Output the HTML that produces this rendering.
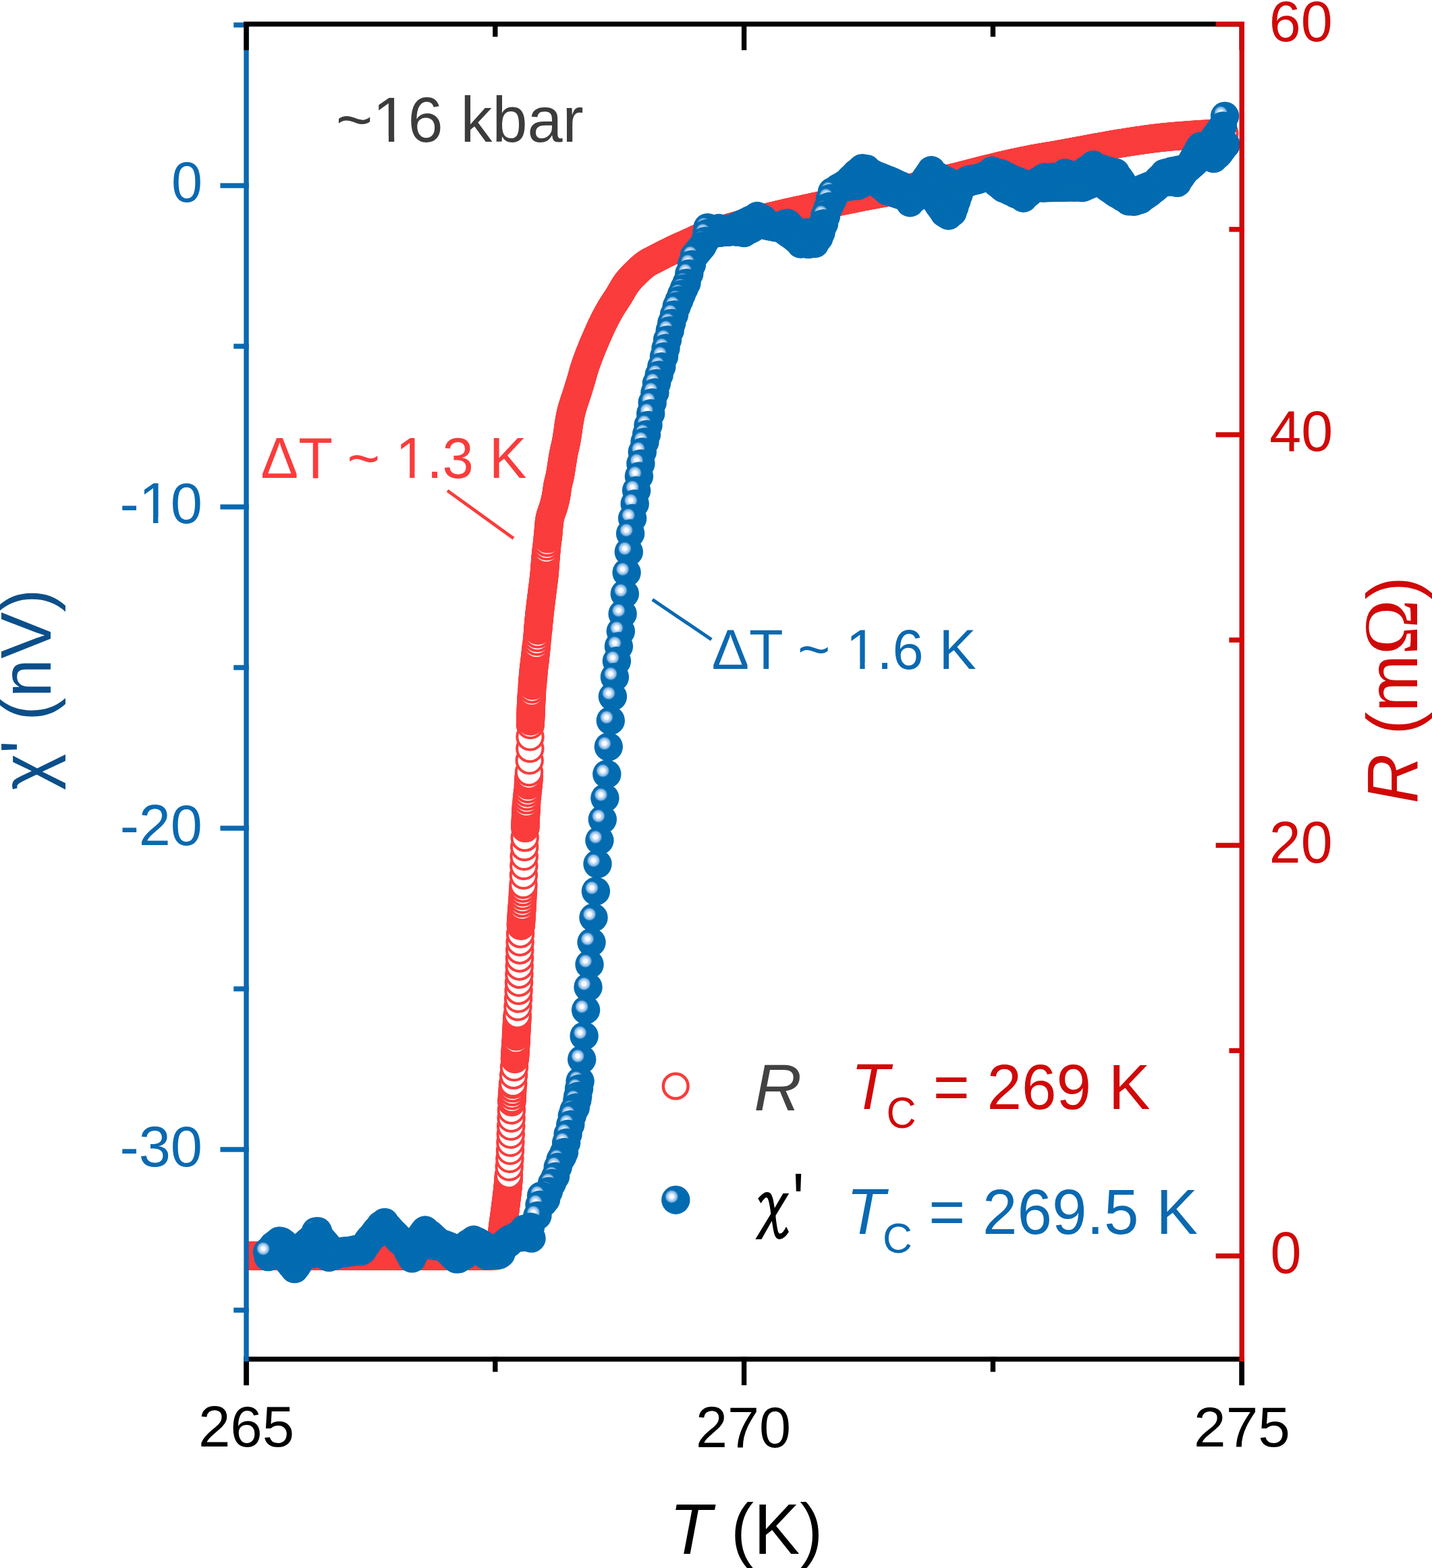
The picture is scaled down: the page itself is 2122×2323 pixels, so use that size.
<!DOCTYPE html><html><head><meta charset="utf-8"><title>T-dependence of R and chi</title><style>html,body{margin:0;padding:0;background:#fff;overflow:hidden}svg{display:block}</style></head><body>
<svg xmlns="http://www.w3.org/2000/svg" xmlns:xlink="http://www.w3.org/1999/xlink" width="2122" height="2323" viewBox="0 0 2122 2323">
<defs>
<radialGradient id="hl" cx="0.5" cy="0.5" r="0.5"><stop offset="0" stop-color="#ffffff"/><stop offset="0.3" stop-color="#f2f7fc"/><stop offset="0.5" stop-color="#bcd6ef"/><stop offset="0.75" stop-color="#86b8e6"/><stop offset="1" stop-color="#2f7fc2" stop-opacity="0"/></radialGradient>
<g id="bp"><circle r="21.2" fill="#036bb0" stroke="#0a5996" stroke-width="0"/><circle cx="-6" cy="-5" r="10.5" fill="url(#hl)"/></g>
<circle id="rp" r="19.2" fill="#ffffff" stroke="#fa3c3c" stroke-width="4"/>
<clipPath id="pc"><rect x="365.0" y="35.7" width="1475.2" height="1977.9"/></clipPath>
</defs>
<rect width="2122" height="2323" fill="#fff"/>
<g clip-path="url(#pc)">
<g><use xlink:href="#rp" x="336.0" y="1860.5"/><use xlink:href="#rp" x="338.0" y="1860.5"/><use xlink:href="#rp" x="340.0" y="1860.5"/><use xlink:href="#rp" x="342.0" y="1860.5"/><use xlink:href="#rp" x="344.0" y="1860.5"/><use xlink:href="#rp" x="346.0" y="1860.5"/><use xlink:href="#rp" x="348.0" y="1860.5"/><use xlink:href="#rp" x="350.0" y="1860.5"/><use xlink:href="#rp" x="352.0" y="1860.5"/><use xlink:href="#rp" x="354.0" y="1860.5"/><use xlink:href="#rp" x="356.0" y="1860.5"/><use xlink:href="#rp" x="358.0" y="1860.5"/><use xlink:href="#rp" x="360.0" y="1860.5"/><use xlink:href="#rp" x="362.0" y="1860.5"/><use xlink:href="#rp" x="364.0" y="1860.5"/><use xlink:href="#rp" x="366.0" y="1860.5"/><use xlink:href="#rp" x="368.0" y="1860.5"/><use xlink:href="#rp" x="370.0" y="1860.5"/><use xlink:href="#rp" x="372.0" y="1860.5"/><use xlink:href="#rp" x="374.0" y="1860.5"/><use xlink:href="#rp" x="376.0" y="1860.5"/><use xlink:href="#rp" x="378.0" y="1860.5"/><use xlink:href="#rp" x="380.0" y="1860.5"/><use xlink:href="#rp" x="382.0" y="1860.5"/><use xlink:href="#rp" x="384.0" y="1860.5"/><use xlink:href="#rp" x="386.0" y="1860.5"/><use xlink:href="#rp" x="388.0" y="1860.5"/><use xlink:href="#rp" x="390.0" y="1860.5"/><use xlink:href="#rp" x="392.0" y="1860.5"/><use xlink:href="#rp" x="394.0" y="1860.5"/><use xlink:href="#rp" x="396.0" y="1860.5"/><use xlink:href="#rp" x="398.0" y="1860.5"/><use xlink:href="#rp" x="400.0" y="1860.5"/><use xlink:href="#rp" x="402.0" y="1860.5"/><use xlink:href="#rp" x="404.0" y="1860.5"/><use xlink:href="#rp" x="406.0" y="1860.5"/><use xlink:href="#rp" x="408.0" y="1860.5"/><use xlink:href="#rp" x="410.0" y="1860.5"/><use xlink:href="#rp" x="412.0" y="1860.5"/><use xlink:href="#rp" x="414.0" y="1860.5"/><use xlink:href="#rp" x="416.0" y="1860.5"/><use xlink:href="#rp" x="418.0" y="1860.5"/><use xlink:href="#rp" x="420.0" y="1860.5"/><use xlink:href="#rp" x="422.0" y="1860.5"/><use xlink:href="#rp" x="424.0" y="1860.5"/><use xlink:href="#rp" x="426.0" y="1860.5"/><use xlink:href="#rp" x="428.0" y="1860.5"/><use xlink:href="#rp" x="430.0" y="1860.5"/><use xlink:href="#rp" x="432.0" y="1860.5"/><use xlink:href="#rp" x="434.0" y="1860.5"/><use xlink:href="#rp" x="436.0" y="1860.5"/><use xlink:href="#rp" x="438.0" y="1860.5"/><use xlink:href="#rp" x="440.0" y="1860.5"/><use xlink:href="#rp" x="442.0" y="1860.5"/><use xlink:href="#rp" x="444.0" y="1860.5"/><use xlink:href="#rp" x="446.0" y="1860.5"/><use xlink:href="#rp" x="448.0" y="1860.5"/><use xlink:href="#rp" x="450.0" y="1860.5"/><use xlink:href="#rp" x="452.0" y="1860.5"/><use xlink:href="#rp" x="454.0" y="1860.5"/><use xlink:href="#rp" x="456.0" y="1860.5"/><use xlink:href="#rp" x="458.0" y="1860.5"/><use xlink:href="#rp" x="460.0" y="1860.5"/><use xlink:href="#rp" x="462.0" y="1860.5"/><use xlink:href="#rp" x="464.0" y="1860.5"/><use xlink:href="#rp" x="466.0" y="1860.5"/><use xlink:href="#rp" x="468.0" y="1860.5"/><use xlink:href="#rp" x="470.0" y="1860.5"/><use xlink:href="#rp" x="472.0" y="1860.5"/><use xlink:href="#rp" x="474.0" y="1860.5"/><use xlink:href="#rp" x="476.0" y="1860.5"/><use xlink:href="#rp" x="478.0" y="1860.5"/><use xlink:href="#rp" x="480.0" y="1860.5"/><use xlink:href="#rp" x="482.0" y="1860.5"/><use xlink:href="#rp" x="484.0" y="1860.5"/><use xlink:href="#rp" x="486.0" y="1860.5"/><use xlink:href="#rp" x="488.0" y="1860.5"/><use xlink:href="#rp" x="490.0" y="1860.5"/><use xlink:href="#rp" x="492.0" y="1860.5"/><use xlink:href="#rp" x="494.0" y="1860.5"/><use xlink:href="#rp" x="496.0" y="1860.5"/><use xlink:href="#rp" x="498.0" y="1860.5"/><use xlink:href="#rp" x="500.0" y="1860.5"/><use xlink:href="#rp" x="502.0" y="1860.5"/><use xlink:href="#rp" x="504.0" y="1860.5"/><use xlink:href="#rp" x="506.0" y="1860.5"/><use xlink:href="#rp" x="508.0" y="1860.5"/><use xlink:href="#rp" x="510.0" y="1860.5"/><use xlink:href="#rp" x="512.0" y="1860.5"/><use xlink:href="#rp" x="514.0" y="1860.5"/><use xlink:href="#rp" x="516.0" y="1860.5"/><use xlink:href="#rp" x="518.0" y="1860.5"/><use xlink:href="#rp" x="520.0" y="1860.5"/><use xlink:href="#rp" x="522.0" y="1860.5"/><use xlink:href="#rp" x="524.0" y="1860.5"/><use xlink:href="#rp" x="526.0" y="1860.5"/><use xlink:href="#rp" x="528.0" y="1860.5"/><use xlink:href="#rp" x="530.0" y="1860.5"/><use xlink:href="#rp" x="532.0" y="1860.5"/><use xlink:href="#rp" x="534.0" y="1860.5"/><use xlink:href="#rp" x="536.0" y="1860.5"/><use xlink:href="#rp" x="538.0" y="1860.5"/><use xlink:href="#rp" x="540.0" y="1860.5"/><use xlink:href="#rp" x="542.0" y="1860.5"/><use xlink:href="#rp" x="544.0" y="1860.5"/><use xlink:href="#rp" x="546.0" y="1860.5"/><use xlink:href="#rp" x="548.0" y="1860.5"/><use xlink:href="#rp" x="550.0" y="1860.5"/><use xlink:href="#rp" x="552.0" y="1860.5"/><use xlink:href="#rp" x="554.0" y="1860.5"/><use xlink:href="#rp" x="556.0" y="1860.5"/><use xlink:href="#rp" x="558.0" y="1860.5"/><use xlink:href="#rp" x="560.0" y="1860.5"/><use xlink:href="#rp" x="562.0" y="1860.5"/><use xlink:href="#rp" x="564.0" y="1860.5"/><use xlink:href="#rp" x="566.0" y="1860.5"/><use xlink:href="#rp" x="568.0" y="1860.5"/><use xlink:href="#rp" x="570.0" y="1860.5"/><use xlink:href="#rp" x="572.0" y="1860.5"/><use xlink:href="#rp" x="574.0" y="1860.5"/><use xlink:href="#rp" x="576.0" y="1860.5"/><use xlink:href="#rp" x="578.0" y="1860.5"/><use xlink:href="#rp" x="580.0" y="1860.5"/><use xlink:href="#rp" x="582.0" y="1860.5"/><use xlink:href="#rp" x="584.0" y="1860.5"/><use xlink:href="#rp" x="586.0" y="1860.5"/><use xlink:href="#rp" x="588.0" y="1860.5"/><use xlink:href="#rp" x="590.0" y="1860.5"/><use xlink:href="#rp" x="592.0" y="1860.5"/><use xlink:href="#rp" x="594.0" y="1860.5"/><use xlink:href="#rp" x="596.0" y="1860.5"/><use xlink:href="#rp" x="598.0" y="1860.5"/><use xlink:href="#rp" x="600.0" y="1860.5"/><use xlink:href="#rp" x="602.0" y="1860.5"/><use xlink:href="#rp" x="604.0" y="1860.5"/><use xlink:href="#rp" x="606.0" y="1860.5"/><use xlink:href="#rp" x="608.0" y="1860.5"/><use xlink:href="#rp" x="610.0" y="1860.5"/><use xlink:href="#rp" x="612.0" y="1860.5"/><use xlink:href="#rp" x="614.0" y="1860.5"/><use xlink:href="#rp" x="616.0" y="1860.5"/><use xlink:href="#rp" x="618.0" y="1860.5"/><use xlink:href="#rp" x="620.0" y="1860.5"/><use xlink:href="#rp" x="622.0" y="1860.5"/><use xlink:href="#rp" x="624.0" y="1860.5"/><use xlink:href="#rp" x="626.0" y="1860.5"/><use xlink:href="#rp" x="628.0" y="1860.5"/><use xlink:href="#rp" x="630.0" y="1860.5"/><use xlink:href="#rp" x="632.0" y="1860.5"/><use xlink:href="#rp" x="634.0" y="1860.5"/><use xlink:href="#rp" x="636.0" y="1860.5"/><use xlink:href="#rp" x="638.0" y="1860.5"/><use xlink:href="#rp" x="640.0" y="1860.5"/><use xlink:href="#rp" x="642.0" y="1860.5"/><use xlink:href="#rp" x="644.0" y="1860.5"/><use xlink:href="#rp" x="646.0" y="1860.5"/><use xlink:href="#rp" x="648.0" y="1860.5"/><use xlink:href="#rp" x="650.0" y="1860.5"/><use xlink:href="#rp" x="652.0" y="1860.5"/><use xlink:href="#rp" x="654.0" y="1860.5"/><use xlink:href="#rp" x="656.0" y="1860.5"/><use xlink:href="#rp" x="658.0" y="1860.5"/><use xlink:href="#rp" x="660.0" y="1860.5"/><use xlink:href="#rp" x="662.0" y="1860.5"/><use xlink:href="#rp" x="664.0" y="1860.5"/><use xlink:href="#rp" x="666.0" y="1860.5"/><use xlink:href="#rp" x="668.0" y="1860.5"/><use xlink:href="#rp" x="670.0" y="1860.5"/><use xlink:href="#rp" x="672.0" y="1860.5"/><use xlink:href="#rp" x="674.0" y="1860.5"/><use xlink:href="#rp" x="676.0" y="1860.5"/><use xlink:href="#rp" x="678.0" y="1860.5"/><use xlink:href="#rp" x="680.0" y="1860.5"/><use xlink:href="#rp" x="682.0" y="1860.5"/><use xlink:href="#rp" x="684.0" y="1860.5"/><use xlink:href="#rp" x="686.0" y="1860.5"/><use xlink:href="#rp" x="688.0" y="1860.5"/><use xlink:href="#rp" x="690.0" y="1860.5"/><use xlink:href="#rp" x="692.0" y="1860.5"/><use xlink:href="#rp" x="694.0" y="1860.5"/><use xlink:href="#rp" x="696.0" y="1860.5"/><use xlink:href="#rp" x="698.0" y="1860.5"/><use xlink:href="#rp" x="700.0" y="1860.5"/><use xlink:href="#rp" x="702.0" y="1860.5"/><use xlink:href="#rp" x="704.0" y="1860.5"/><use xlink:href="#rp" x="706.0" y="1860.5"/><use xlink:href="#rp" x="708.0" y="1860.6"/><use xlink:href="#rp" x="710.0" y="1860.6"/><use xlink:href="#rp" x="712.0" y="1860.6"/><use xlink:href="#rp" x="714.0" y="1860.6"/><use xlink:href="#rp" x="716.0" y="1860.7"/><use xlink:href="#rp" x="718.0" y="1860.7"/><use xlink:href="#rp" x="720.0" y="1860.7"/><use xlink:href="#rp" x="722.0" y="1860.7"/><use xlink:href="#rp" x="724.0" y="1860.7"/><use xlink:href="#rp" x="726.0" y="1860.7"/><use xlink:href="#rp" x="728.0" y="1860.6"/><use xlink:href="#rp" x="730.0" y="1860.5"/><use xlink:href="#rp" x="732.0" y="1860.4"/><use xlink:href="#rp" x="734.0" y="1860.4"/><use xlink:href="#rp" x="736.0" y="1860.0"/><use xlink:href="#rp" x="737.7" y="1859.0"/><use xlink:href="#rp" x="738.9" y="1857.5"/><use xlink:href="#rp" x="739.9" y="1855.7"/><use xlink:href="#rp" x="740.7" y="1853.9"/><use xlink:href="#rp" x="741.3" y="1852.0"/><use xlink:href="#rp" x="741.8" y="1850.0"/><use xlink:href="#rp" x="742.1" y="1848.1"/><use xlink:href="#rp" x="742.3" y="1846.1"/><use xlink:href="#rp" x="742.5" y="1844.1"/><use xlink:href="#rp" x="742.6" y="1842.1"/><use xlink:href="#rp" x="742.8" y="1840.1"/><use xlink:href="#rp" x="743.0" y="1838.1"/><use xlink:href="#rp" x="743.2" y="1836.1"/><use xlink:href="#rp" x="743.4" y="1834.1"/><use xlink:href="#rp" x="743.6" y="1832.1"/><use xlink:href="#rp" x="743.8" y="1830.1"/><use xlink:href="#rp" x="744.0" y="1828.1"/><use xlink:href="#rp" x="744.2" y="1826.2"/><use xlink:href="#rp" x="744.3" y="1824.2"/><use xlink:href="#rp" x="744.5" y="1822.2"/><use xlink:href="#rp" x="744.8" y="1820.2"/><use xlink:href="#rp" x="745.0" y="1818.2"/><use xlink:href="#rp" x="745.2" y="1816.2"/><use xlink:href="#rp" x="745.5" y="1814.2"/><use xlink:href="#rp" x="745.7" y="1812.2"/><use xlink:href="#rp" x="746.0" y="1810.3"/><use xlink:href="#rp" x="746.3" y="1808.3"/><use xlink:href="#rp" x="746.6" y="1806.3"/><use xlink:href="#rp" x="746.9" y="1804.3"/><use xlink:href="#rp" x="747.2" y="1802.3"/><use xlink:href="#rp" x="747.4" y="1800.4"/><use xlink:href="#rp" x="747.7" y="1798.4"/><use xlink:href="#rp" x="747.9" y="1796.4"/><use xlink:href="#rp" x="748.2" y="1794.4"/><use xlink:href="#rp" x="748.5" y="1792.4"/><use xlink:href="#rp" x="748.7" y="1790.4"/><use xlink:href="#rp" x="749.0" y="1788.5"/><use xlink:href="#rp" x="749.2" y="1786.5"/><use xlink:href="#rp" x="749.5" y="1784.5"/><use xlink:href="#rp" x="749.7" y="1782.5"/><use xlink:href="#rp" x="750.0" y="1780.5"/><use xlink:href="#rp" x="750.2" y="1778.5"/><use xlink:href="#rp" x="750.5" y="1776.6"/><use xlink:href="#rp" x="750.7" y="1774.6"/><use xlink:href="#rp" x="751.0" y="1772.6"/><use xlink:href="#rp" x="751.2" y="1770.6"/><use xlink:href="#rp" x="751.4" y="1768.6"/><use xlink:href="#rp" x="751.7" y="1766.6"/><use xlink:href="#rp" x="751.9" y="1764.6"/><use xlink:href="#rp" x="752.1" y="1762.7"/><use xlink:href="#rp" x="752.3" y="1760.7"/><use xlink:href="#rp" x="752.5" y="1758.7"/><use xlink:href="#rp" x="752.7" y="1756.7"/><use xlink:href="#rp" x="752.9" y="1754.7"/><use xlink:href="#rp" x="753.1" y="1752.7"/><use xlink:href="#rp" x="753.2" y="1750.7"/><use xlink:href="#rp" x="753.4" y="1748.7"/><use xlink:href="#rp" x="753.5" y="1746.7"/><use xlink:href="#rp" x="753.7" y="1744.7"/><use xlink:href="#rp" x="753.8" y="1742.7"/><use xlink:href="#rp" x="754.0" y="1740.7"/><use xlink:href="#rp" x="754.7" y="1728.8"/><use xlink:href="#rp" x="755.4" y="1716.8"/><use xlink:href="#rp" x="756.0" y="1704.8"/><use xlink:href="#rp" x="756.4" y="1692.8"/><use xlink:href="#rp" x="756.8" y="1680.8"/><use xlink:href="#rp" x="757.2" y="1668.8"/><use xlink:href="#rp" x="757.6" y="1656.8"/><use xlink:href="#rp" x="757.9" y="1644.8"/><use xlink:href="#rp" x="758.3" y="1632.8"/><use xlink:href="#rp" x="758.4" y="1630.8"/><use xlink:href="#rp" x="758.6" y="1628.8"/><use xlink:href="#rp" x="758.9" y="1623.3"/><use xlink:href="#rp" x="759.2" y="1617.9"/><use xlink:href="#rp" x="759.6" y="1612.4"/><use xlink:href="#rp" x="760.0" y="1606.9"/><use xlink:href="#rp" x="760.2" y="1604.9"/><use xlink:href="#rp" x="761.1" y="1592.9"/><use xlink:href="#rp" x="762.0" y="1581.0"/><use xlink:href="#rp" x="762.9" y="1569.0"/><use xlink:href="#rp" x="763.0" y="1567.0"/><use xlink:href="#rp" x="763.1" y="1565.0"/><use xlink:href="#rp" x="763.3" y="1563.0"/><use xlink:href="#rp" x="763.4" y="1561.0"/><use xlink:href="#rp" x="763.6" y="1559.0"/><use xlink:href="#rp" x="763.7" y="1557.0"/><use xlink:href="#rp" x="763.8" y="1555.0"/><use xlink:href="#rp" x="763.9" y="1553.0"/><use xlink:href="#rp" x="764.0" y="1551.0"/><use xlink:href="#rp" x="764.2" y="1549.0"/><use xlink:href="#rp" x="764.3" y="1547.0"/><use xlink:href="#rp" x="764.4" y="1545.0"/><use xlink:href="#rp" x="764.5" y="1543.0"/><use xlink:href="#rp" x="764.6" y="1541.0"/><use xlink:href="#rp" x="764.9" y="1535.6"/><use xlink:href="#rp" x="765.0" y="1533.6"/><use xlink:href="#rp" x="765.1" y="1531.6"/><use xlink:href="#rp" x="765.2" y="1529.6"/><use xlink:href="#rp" x="765.3" y="1527.6"/><use xlink:href="#rp" x="765.4" y="1525.6"/><use xlink:href="#rp" x="765.5" y="1523.6"/><use xlink:href="#rp" x="765.6" y="1521.6"/><use xlink:href="#rp" x="765.7" y="1519.6"/><use xlink:href="#rp" x="765.9" y="1517.6"/><use xlink:href="#rp" x="766.0" y="1515.6"/><use xlink:href="#rp" x="766.1" y="1513.6"/><use xlink:href="#rp" x="766.2" y="1511.6"/><use xlink:href="#rp" x="766.3" y="1509.6"/><use xlink:href="#rp" x="766.4" y="1507.6"/><use xlink:href="#rp" x="766.6" y="1505.6"/><use xlink:href="#rp" x="766.7" y="1503.6"/><use xlink:href="#rp" x="767.4" y="1491.6"/><use xlink:href="#rp" x="768.1" y="1479.6"/><use xlink:href="#rp" x="768.6" y="1467.7"/><use xlink:href="#rp" x="769.0" y="1455.7"/><use xlink:href="#rp" x="769.4" y="1443.7"/><use xlink:href="#rp" x="769.7" y="1431.7"/><use xlink:href="#rp" x="770.0" y="1419.7"/><use xlink:href="#rp" x="770.2" y="1407.7"/><use xlink:href="#rp" x="770.6" y="1395.7"/><use xlink:href="#rp" x="771.1" y="1383.7"/><use xlink:href="#rp" x="771.8" y="1371.7"/><use xlink:href="#rp" x="771.9" y="1369.7"/><use xlink:href="#rp" x="772.0" y="1367.7"/><use xlink:href="#rp" x="772.1" y="1365.7"/><use xlink:href="#rp" x="772.3" y="1363.7"/><use xlink:href="#rp" x="772.4" y="1361.7"/><use xlink:href="#rp" x="772.5" y="1359.7"/><use xlink:href="#rp" x="772.6" y="1357.7"/><use xlink:href="#rp" x="772.8" y="1355.7"/><use xlink:href="#rp" x="772.9" y="1353.7"/><use xlink:href="#rp" x="773.0" y="1351.8"/><use xlink:href="#rp" x="773.1" y="1349.8"/><use xlink:href="#rp" x="773.3" y="1347.8"/><use xlink:href="#rp" x="773.4" y="1345.8"/><use xlink:href="#rp" x="773.5" y="1343.8"/><use xlink:href="#rp" x="773.9" y="1338.3"/><use xlink:href="#rp" x="774.3" y="1332.8"/><use xlink:href="#rp" x="774.6" y="1327.3"/><use xlink:href="#rp" x="774.9" y="1321.8"/><use xlink:href="#rp" x="775.2" y="1316.3"/><use xlink:href="#rp" x="775.5" y="1310.8"/><use xlink:href="#rp" x="775.9" y="1296.8"/><use xlink:href="#rp" x="776.3" y="1282.8"/><use xlink:href="#rp" x="776.7" y="1268.8"/><use xlink:href="#rp" x="777.2" y="1254.9"/><use xlink:href="#rp" x="777.7" y="1240.9"/><use xlink:href="#rp" x="778.3" y="1226.9"/><use xlink:href="#rp" x="778.4" y="1224.9"/><use xlink:href="#rp" x="778.5" y="1222.9"/><use xlink:href="#rp" x="778.5" y="1220.9"/><use xlink:href="#rp" x="778.6" y="1218.9"/><use xlink:href="#rp" x="778.7" y="1216.9"/><use xlink:href="#rp" x="778.8" y="1214.9"/><use xlink:href="#rp" x="778.9" y="1212.9"/><use xlink:href="#rp" x="779.0" y="1210.9"/><use xlink:href="#rp" x="779.0" y="1208.9"/><use xlink:href="#rp" x="779.1" y="1206.9"/><use xlink:href="#rp" x="779.2" y="1204.9"/><use xlink:href="#rp" x="779.4" y="1202.9"/><use xlink:href="#rp" x="779.5" y="1200.9"/><use xlink:href="#rp" x="779.6" y="1198.9"/><use xlink:href="#rp" x="779.7" y="1196.9"/><use xlink:href="#rp" x="779.8" y="1194.9"/><use xlink:href="#rp" x="780.0" y="1192.9"/><use xlink:href="#rp" x="780.1" y="1190.9"/><use xlink:href="#rp" x="780.6" y="1185.4"/><use xlink:href="#rp" x="781.1" y="1180.0"/><use xlink:href="#rp" x="781.7" y="1174.5"/><use xlink:href="#rp" x="782.3" y="1169.0"/><use xlink:href="#rp" x="782.8" y="1163.6"/><use xlink:href="#rp" x="782.9" y="1161.6"/><use xlink:href="#rp" x="783.1" y="1159.6"/><use xlink:href="#rp" x="783.2" y="1157.6"/><use xlink:href="#rp" x="783.4" y="1155.6"/><use xlink:href="#rp" x="783.5" y="1153.6"/><use xlink:href="#rp" x="783.6" y="1151.6"/><use xlink:href="#rp" x="783.7" y="1149.6"/><use xlink:href="#rp" x="784.0" y="1144.1"/><use xlink:href="#rp" x="784.7" y="1126.6"/><use xlink:href="#rp" x="785.3" y="1109.1"/><use xlink:href="#rp" x="785.5" y="1091.6"/><use xlink:href="#rp" x="785.9" y="1074.1"/><use xlink:href="#rp" x="786.0" y="1068.6"/><use xlink:href="#rp" x="786.1" y="1066.6"/><use xlink:href="#rp" x="786.2" y="1064.6"/><use xlink:href="#rp" x="786.3" y="1062.6"/><use xlink:href="#rp" x="786.3" y="1060.6"/><use xlink:href="#rp" x="786.4" y="1058.6"/><use xlink:href="#rp" x="786.5" y="1056.6"/><use xlink:href="#rp" x="786.6" y="1054.6"/><use xlink:href="#rp" x="786.6" y="1052.6"/><use xlink:href="#rp" x="786.7" y="1050.6"/><use xlink:href="#rp" x="786.8" y="1048.6"/><use xlink:href="#rp" x="786.9" y="1046.6"/><use xlink:href="#rp" x="787.0" y="1044.6"/><use xlink:href="#rp" x="787.1" y="1042.6"/><use xlink:href="#rp" x="787.2" y="1040.7"/><use xlink:href="#rp" x="787.3" y="1038.7"/><use xlink:href="#rp" x="787.4" y="1036.7"/><use xlink:href="#rp" x="787.5" y="1034.7"/><use xlink:href="#rp" x="787.6" y="1032.7"/><use xlink:href="#rp" x="787.8" y="1030.7"/><use xlink:href="#rp" x="787.9" y="1028.7"/><use xlink:href="#rp" x="788.0" y="1026.7"/><use xlink:href="#rp" x="788.4" y="1021.2"/><use xlink:href="#rp" x="788.8" y="1015.7"/><use xlink:href="#rp" x="789.0" y="1013.7"/><use xlink:href="#rp" x="789.1" y="1011.7"/><use xlink:href="#rp" x="789.3" y="1009.7"/><use xlink:href="#rp" x="789.5" y="1007.7"/><use xlink:href="#rp" x="789.6" y="1005.7"/><use xlink:href="#rp" x="789.8" y="1003.7"/><use xlink:href="#rp" x="790.0" y="1001.8"/><use xlink:href="#rp" x="790.2" y="999.8"/><use xlink:href="#rp" x="790.3" y="997.8"/><use xlink:href="#rp" x="790.5" y="995.8"/><use xlink:href="#rp" x="790.7" y="993.8"/><use xlink:href="#rp" x="790.9" y="991.8"/><use xlink:href="#rp" x="791.1" y="989.8"/><use xlink:href="#rp" x="791.4" y="987.8"/><use xlink:href="#rp" x="791.6" y="985.8"/><use xlink:href="#rp" x="791.8" y="983.9"/><use xlink:href="#rp" x="792.1" y="981.9"/><use xlink:href="#rp" x="792.3" y="979.9"/><use xlink:href="#rp" x="792.6" y="977.9"/><use xlink:href="#rp" x="792.8" y="975.9"/><use xlink:href="#rp" x="793.0" y="973.9"/><use xlink:href="#rp" x="793.2" y="971.9"/><use xlink:href="#rp" x="793.4" y="969.9"/><use xlink:href="#rp" x="793.7" y="968.0"/><use xlink:href="#rp" x="793.9" y="966.0"/><use xlink:href="#rp" x="794.1" y="964.0"/><use xlink:href="#rp" x="794.3" y="962.0"/><use xlink:href="#rp" x="794.5" y="960.0"/><use xlink:href="#rp" x="794.8" y="958.0"/><use xlink:href="#rp" x="795.0" y="956.0"/><use xlink:href="#rp" x="795.6" y="950.6"/><use xlink:href="#rp" x="796.1" y="945.1"/><use xlink:href="#rp" x="796.6" y="939.6"/><use xlink:href="#rp" x="797.1" y="934.1"/><use xlink:href="#rp" x="797.3" y="932.1"/><use xlink:href="#rp" x="797.5" y="930.1"/><use xlink:href="#rp" x="797.7" y="928.2"/><use xlink:href="#rp" x="797.8" y="926.2"/><use xlink:href="#rp" x="798.0" y="924.2"/><use xlink:href="#rp" x="798.2" y="922.2"/><use xlink:href="#rp" x="798.4" y="920.2"/><use xlink:href="#rp" x="798.6" y="918.2"/><use xlink:href="#rp" x="798.8" y="916.2"/><use xlink:href="#rp" x="799.0" y="914.2"/><use xlink:href="#rp" x="799.2" y="912.2"/><use xlink:href="#rp" x="799.4" y="910.2"/><use xlink:href="#rp" x="799.6" y="908.3"/><use xlink:href="#rp" x="799.8" y="906.3"/><use xlink:href="#rp" x="800.1" y="904.3"/><use xlink:href="#rp" x="800.3" y="902.3"/><use xlink:href="#rp" x="800.5" y="900.3"/><use xlink:href="#rp" x="800.8" y="898.3"/><use xlink:href="#rp" x="801.0" y="896.3"/><use xlink:href="#rp" x="801.2" y="894.3"/><use xlink:href="#rp" x="801.5" y="892.4"/><use xlink:href="#rp" x="801.7" y="890.4"/><use xlink:href="#rp" x="801.9" y="888.4"/><use xlink:href="#rp" x="802.2" y="886.4"/><use xlink:href="#rp" x="802.4" y="884.4"/><use xlink:href="#rp" x="802.7" y="882.4"/><use xlink:href="#rp" x="802.9" y="880.4"/><use xlink:href="#rp" x="803.2" y="878.5"/><use xlink:href="#rp" x="803.4" y="876.5"/><use xlink:href="#rp" x="803.7" y="874.5"/><use xlink:href="#rp" x="803.9" y="872.5"/><use xlink:href="#rp" x="804.2" y="870.5"/><use xlink:href="#rp" x="804.5" y="868.5"/><use xlink:href="#rp" x="804.7" y="866.6"/><use xlink:href="#rp" x="805.0" y="864.6"/><use xlink:href="#rp" x="805.2" y="862.6"/><use xlink:href="#rp" x="805.5" y="860.6"/><use xlink:href="#rp" x="805.7" y="858.6"/><use xlink:href="#rp" x="805.9" y="856.6"/><use xlink:href="#rp" x="806.2" y="854.7"/><use xlink:href="#rp" x="806.4" y="852.7"/><use xlink:href="#rp" x="806.6" y="850.7"/><use xlink:href="#rp" x="806.8" y="848.7"/><use xlink:href="#rp" x="807.0" y="846.7"/><use xlink:href="#rp" x="807.1" y="844.7"/><use xlink:href="#rp" x="807.3" y="842.7"/><use xlink:href="#rp" x="807.4" y="840.7"/><use xlink:href="#rp" x="807.6" y="838.7"/><use xlink:href="#rp" x="807.7" y="836.7"/><use xlink:href="#rp" x="807.9" y="834.7"/><use xlink:href="#rp" x="808.0" y="832.7"/><use xlink:href="#rp" x="808.2" y="830.7"/><use xlink:href="#rp" x="808.3" y="828.7"/><use xlink:href="#rp" x="808.5" y="826.8"/><use xlink:href="#rp" x="808.7" y="824.8"/><use xlink:href="#rp" x="808.9" y="822.8"/><use xlink:href="#rp" x="809.0" y="820.8"/><use xlink:href="#rp" x="809.2" y="818.8"/><use xlink:href="#rp" x="809.4" y="816.8"/><use xlink:href="#rp" x="809.7" y="814.8"/><use xlink:href="#rp" x="810.2" y="809.3"/><use xlink:href="#rp" x="810.9" y="803.9"/><use xlink:href="#rp" x="811.5" y="798.4"/><use xlink:href="#rp" x="811.7" y="796.4"/><use xlink:href="#rp" x="811.9" y="794.4"/><use xlink:href="#rp" x="812.2" y="792.4"/><use xlink:href="#rp" x="812.4" y="790.5"/><use xlink:href="#rp" x="812.5" y="788.5"/><use xlink:href="#rp" x="812.7" y="786.5"/><use xlink:href="#rp" x="812.9" y="784.5"/><use xlink:href="#rp" x="813.0" y="782.5"/><use xlink:href="#rp" x="813.2" y="780.5"/><use xlink:href="#rp" x="813.4" y="778.5"/><use xlink:href="#rp" x="813.5" y="776.5"/><use xlink:href="#rp" x="813.7" y="774.5"/><use xlink:href="#rp" x="814.0" y="772.5"/><use xlink:href="#rp" x="814.3" y="770.6"/><use xlink:href="#rp" x="814.6" y="768.6"/><use xlink:href="#rp" x="815.0" y="766.6"/><use xlink:href="#rp" x="815.5" y="764.7"/><use xlink:href="#rp" x="816.0" y="762.8"/><use xlink:href="#rp" x="816.7" y="760.9"/><use xlink:href="#rp" x="817.3" y="759.0"/><use xlink:href="#rp" x="818.0" y="757.1"/><use xlink:href="#rp" x="818.7" y="755.2"/><use xlink:href="#rp" x="819.4" y="753.3"/><use xlink:href="#rp" x="820.0" y="751.4"/><use xlink:href="#rp" x="820.5" y="749.5"/><use xlink:href="#rp" x="821.1" y="747.6"/><use xlink:href="#rp" x="821.6" y="745.7"/><use xlink:href="#rp" x="822.1" y="743.7"/><use xlink:href="#rp" x="822.6" y="741.8"/><use xlink:href="#rp" x="823.0" y="739.8"/><use xlink:href="#rp" x="823.4" y="737.9"/><use xlink:href="#rp" x="823.9" y="735.9"/><use xlink:href="#rp" x="824.2" y="733.9"/><use xlink:href="#rp" x="824.6" y="732.0"/><use xlink:href="#rp" x="824.9" y="730.0"/><use xlink:href="#rp" x="825.1" y="728.0"/><use xlink:href="#rp" x="825.4" y="726.0"/><use xlink:href="#rp" x="825.7" y="724.1"/><use xlink:href="#rp" x="825.9" y="722.1"/><use xlink:href="#rp" x="826.3" y="720.1"/><use xlink:href="#rp" x="826.6" y="718.1"/><use xlink:href="#rp" x="827.1" y="716.2"/><use xlink:href="#rp" x="827.5" y="714.2"/><use xlink:href="#rp" x="828.0" y="712.3"/><use xlink:href="#rp" x="828.5" y="710.3"/><use xlink:href="#rp" x="828.9" y="708.4"/><use xlink:href="#rp" x="829.4" y="706.4"/><use xlink:href="#rp" x="829.8" y="704.5"/><use xlink:href="#rp" x="830.2" y="702.5"/><use xlink:href="#rp" x="830.5" y="700.6"/><use xlink:href="#rp" x="830.9" y="698.6"/><use xlink:href="#rp" x="831.2" y="696.6"/><use xlink:href="#rp" x="831.5" y="694.6"/><use xlink:href="#rp" x="831.8" y="692.7"/><use xlink:href="#rp" x="832.1" y="690.7"/><use xlink:href="#rp" x="832.4" y="688.7"/><use xlink:href="#rp" x="832.7" y="686.7"/><use xlink:href="#rp" x="833.1" y="684.8"/><use xlink:href="#rp" x="833.4" y="682.8"/><use xlink:href="#rp" x="833.7" y="680.8"/><use xlink:href="#rp" x="834.0" y="678.8"/><use xlink:href="#rp" x="834.3" y="676.9"/><use xlink:href="#rp" x="834.6" y="674.9"/><use xlink:href="#rp" x="835.0" y="672.9"/><use xlink:href="#rp" x="835.3" y="671.0"/><use xlink:href="#rp" x="835.8" y="669.0"/><use xlink:href="#rp" x="836.2" y="667.0"/><use xlink:href="#rp" x="836.6" y="665.1"/><use xlink:href="#rp" x="837.1" y="663.1"/><use xlink:href="#rp" x="837.6" y="661.2"/><use xlink:href="#rp" x="838.0" y="659.3"/><use xlink:href="#rp" x="838.4" y="657.3"/><use xlink:href="#rp" x="838.8" y="655.3"/><use xlink:href="#rp" x="839.2" y="653.4"/><use xlink:href="#rp" x="839.5" y="651.4"/><use xlink:href="#rp" x="839.8" y="649.4"/><use xlink:href="#rp" x="840.2" y="647.4"/><use xlink:href="#rp" x="840.5" y="645.5"/><use xlink:href="#rp" x="840.8" y="643.5"/><use xlink:href="#rp" x="841.1" y="641.5"/><use xlink:href="#rp" x="841.4" y="639.5"/><use xlink:href="#rp" x="841.7" y="637.6"/><use xlink:href="#rp" x="841.9" y="635.6"/><use xlink:href="#rp" x="842.2" y="633.6"/><use xlink:href="#rp" x="842.5" y="631.6"/><use xlink:href="#rp" x="842.7" y="629.6"/><use xlink:href="#rp" x="843.1" y="627.7"/><use xlink:href="#rp" x="843.4" y="625.7"/><use xlink:href="#rp" x="843.8" y="623.7"/><use xlink:href="#rp" x="844.1" y="621.8"/><use xlink:href="#rp" x="844.5" y="619.8"/><use xlink:href="#rp" x="844.8" y="617.8"/><use xlink:href="#rp" x="845.2" y="615.9"/><use xlink:href="#rp" x="845.6" y="613.9"/><use xlink:href="#rp" x="846.0" y="611.9"/><use xlink:href="#rp" x="846.5" y="610.0"/><use xlink:href="#rp" x="847.0" y="608.0"/><use xlink:href="#rp" x="847.5" y="606.1"/><use xlink:href="#rp" x="848.0" y="604.2"/><use xlink:href="#rp" x="848.6" y="602.3"/><use xlink:href="#rp" x="849.2" y="600.4"/><use xlink:href="#rp" x="849.8" y="598.5"/><use xlink:href="#rp" x="850.4" y="596.6"/><use xlink:href="#rp" x="851.0" y="594.7"/><use xlink:href="#rp" x="851.7" y="592.8"/><use xlink:href="#rp" x="852.3" y="590.9"/><use xlink:href="#rp" x="853.0" y="589.0"/><use xlink:href="#rp" x="853.6" y="587.1"/><use xlink:href="#rp" x="854.2" y="585.2"/><use xlink:href="#rp" x="854.8" y="583.3"/><use xlink:href="#rp" x="855.4" y="581.4"/><use xlink:href="#rp" x="856.0" y="579.5"/><use xlink:href="#rp" x="856.6" y="577.5"/><use xlink:href="#rp" x="857.2" y="575.6"/><use xlink:href="#rp" x="857.8" y="573.7"/><use xlink:href="#rp" x="858.4" y="571.8"/><use xlink:href="#rp" x="859.0" y="569.9"/><use xlink:href="#rp" x="859.6" y="568.0"/><use xlink:href="#rp" x="860.2" y="566.1"/><use xlink:href="#rp" x="860.7" y="564.2"/><use xlink:href="#rp" x="861.3" y="562.3"/><use xlink:href="#rp" x="861.9" y="560.3"/><use xlink:href="#rp" x="862.4" y="558.4"/><use xlink:href="#rp" x="862.9" y="556.5"/><use xlink:href="#rp" x="863.5" y="554.5"/><use xlink:href="#rp" x="864.0" y="552.6"/><use xlink:href="#rp" x="864.5" y="550.7"/><use xlink:href="#rp" x="865.1" y="548.8"/><use xlink:href="#rp" x="865.7" y="546.9"/><use xlink:href="#rp" x="866.3" y="544.9"/><use xlink:href="#rp" x="866.9" y="543.0"/><use xlink:href="#rp" x="867.5" y="541.1"/><use xlink:href="#rp" x="868.2" y="539.3"/><use xlink:href="#rp" x="868.8" y="537.4"/><use xlink:href="#rp" x="869.5" y="535.5"/><use xlink:href="#rp" x="870.2" y="533.6"/><use xlink:href="#rp" x="870.9" y="531.7"/><use xlink:href="#rp" x="871.6" y="529.9"/><use xlink:href="#rp" x="872.3" y="528.0"/><use xlink:href="#rp" x="873.0" y="526.1"/><use xlink:href="#rp" x="873.7" y="524.3"/><use xlink:href="#rp" x="874.5" y="522.4"/><use xlink:href="#rp" x="875.2" y="520.5"/><use xlink:href="#rp" x="875.9" y="518.7"/><use xlink:href="#rp" x="876.7" y="516.8"/><use xlink:href="#rp" x="877.4" y="515.0"/><use xlink:href="#rp" x="878.2" y="513.1"/><use xlink:href="#rp" x="879.0" y="511.3"/><use xlink:href="#rp" x="879.7" y="509.4"/><use xlink:href="#rp" x="880.5" y="507.6"/><use xlink:href="#rp" x="881.3" y="505.7"/><use xlink:href="#rp" x="882.1" y="503.9"/><use xlink:href="#rp" x="882.9" y="502.1"/><use xlink:href="#rp" x="883.7" y="500.2"/><use xlink:href="#rp" x="884.5" y="498.4"/><use xlink:href="#rp" x="885.3" y="496.6"/><use xlink:href="#rp" x="886.1" y="494.7"/><use xlink:href="#rp" x="886.9" y="492.9"/><use xlink:href="#rp" x="887.7" y="491.1"/><use xlink:href="#rp" x="888.5" y="489.2"/><use xlink:href="#rp" x="889.3" y="487.4"/><use xlink:href="#rp" x="890.2" y="485.6"/><use xlink:href="#rp" x="891.0" y="483.8"/><use xlink:href="#rp" x="891.9" y="482.0"/><use xlink:href="#rp" x="892.7" y="480.2"/><use xlink:href="#rp" x="893.6" y="478.4"/><use xlink:href="#rp" x="894.5" y="476.6"/><use xlink:href="#rp" x="895.4" y="474.8"/><use xlink:href="#rp" x="896.3" y="473.0"/><use xlink:href="#rp" x="897.2" y="471.2"/><use xlink:href="#rp" x="898.1" y="469.5"/><use xlink:href="#rp" x="899.0" y="467.7"/><use xlink:href="#rp" x="900.0" y="465.9"/><use xlink:href="#rp" x="900.9" y="464.2"/><use xlink:href="#rp" x="901.9" y="462.4"/><use xlink:href="#rp" x="902.9" y="460.7"/><use xlink:href="#rp" x="903.9" y="458.9"/><use xlink:href="#rp" x="904.9" y="457.2"/><use xlink:href="#rp" x="906.0" y="455.5"/><use xlink:href="#rp" x="907.0" y="453.8"/><use xlink:href="#rp" x="908.1" y="452.1"/><use xlink:href="#rp" x="909.2" y="450.5"/><use xlink:href="#rp" x="910.3" y="448.8"/><use xlink:href="#rp" x="911.4" y="447.1"/><use xlink:href="#rp" x="912.4" y="445.4"/><use xlink:href="#rp" x="913.5" y="443.8"/><use xlink:href="#rp" x="914.6" y="442.1"/><use xlink:href="#rp" x="915.7" y="440.4"/><use xlink:href="#rp" x="916.8" y="438.7"/><use xlink:href="#rp" x="917.8" y="437.0"/><use xlink:href="#rp" x="918.9" y="435.3"/><use xlink:href="#rp" x="919.9" y="433.6"/><use xlink:href="#rp" x="920.9" y="431.8"/><use xlink:href="#rp" x="921.9" y="430.1"/><use xlink:href="#rp" x="922.8" y="428.4"/><use xlink:href="#rp" x="923.9" y="426.6"/><use xlink:href="#rp" x="924.9" y="424.9"/><use xlink:href="#rp" x="925.9" y="423.2"/><use xlink:href="#rp" x="927.1" y="421.6"/><use xlink:href="#rp" x="928.2" y="419.9"/><use xlink:href="#rp" x="929.4" y="418.3"/><use xlink:href="#rp" x="930.6" y="416.7"/><use xlink:href="#rp" x="931.9" y="415.2"/><use xlink:href="#rp" x="933.2" y="413.7"/><use xlink:href="#rp" x="934.5" y="412.2"/><use xlink:href="#rp" x="935.9" y="410.7"/><use xlink:href="#rp" x="937.3" y="409.3"/><use xlink:href="#rp" x="938.7" y="407.9"/><use xlink:href="#rp" x="940.1" y="406.5"/><use xlink:href="#rp" x="941.6" y="405.1"/><use xlink:href="#rp" x="943.0" y="403.7"/><use xlink:href="#rp" x="944.4" y="402.3"/><use xlink:href="#rp" x="945.9" y="400.9"/><use xlink:href="#rp" x="947.3" y="399.5"/><use xlink:href="#rp" x="948.8" y="398.1"/><use xlink:href="#rp" x="950.2" y="396.8"/><use xlink:href="#rp" x="951.7" y="395.5"/><use xlink:href="#rp" x="953.3" y="394.2"/><use xlink:href="#rp" x="954.8" y="392.9"/><use xlink:href="#rp" x="956.4" y="391.7"/><use xlink:href="#rp" x="958.1" y="390.6"/><use xlink:href="#rp" x="959.7" y="389.5"/><use xlink:href="#rp" x="961.5" y="388.5"/><use xlink:href="#rp" x="963.2" y="387.5"/><use xlink:href="#rp" x="965.0" y="386.6"/><use xlink:href="#rp" x="966.8" y="385.7"/><use xlink:href="#rp" x="968.6" y="384.8"/><use xlink:href="#rp" x="970.3" y="383.9"/><use xlink:href="#rp" x="972.1" y="383.0"/><use xlink:href="#rp" x="973.9" y="382.0"/><use xlink:href="#rp" x="975.7" y="381.1"/><use xlink:href="#rp" x="977.4" y="380.2"/><use xlink:href="#rp" x="979.2" y="379.3"/><use xlink:href="#rp" x="981.0" y="378.4"/><use xlink:href="#rp" x="982.8" y="377.4"/><use xlink:href="#rp" x="984.6" y="376.5"/><use xlink:href="#rp" x="986.4" y="375.6"/><use xlink:href="#rp" x="988.1" y="374.7"/><use xlink:href="#rp" x="989.9" y="373.9"/><use xlink:href="#rp" x="991.7" y="373.0"/><use xlink:href="#rp" x="993.5" y="372.1"/><use xlink:href="#rp" x="995.3" y="371.2"/><use xlink:href="#rp" x="997.1" y="370.3"/><use xlink:href="#rp" x="998.9" y="369.5"/><use xlink:href="#rp" x="1000.7" y="368.6"/><use xlink:href="#rp" x="1002.6" y="367.8"/><use xlink:href="#rp" x="1004.4" y="367.0"/><use xlink:href="#rp" x="1006.2" y="366.2"/><use xlink:href="#rp" x="1008.0" y="365.3"/><use xlink:href="#rp" x="1009.8" y="364.5"/><use xlink:href="#rp" x="1011.7" y="363.7"/><use xlink:href="#rp" x="1013.5" y="362.9"/><use xlink:href="#rp" x="1015.3" y="362.1"/><use xlink:href="#rp" x="1017.1" y="361.2"/><use xlink:href="#rp" x="1019.0" y="360.4"/><use xlink:href="#rp" x="1020.8" y="359.6"/><use xlink:href="#rp" x="1022.6" y="358.8"/><use xlink:href="#rp" x="1024.4" y="357.9"/><use xlink:href="#rp" x="1026.2" y="357.1"/><use xlink:href="#rp" x="1028.1" y="356.2"/><use xlink:href="#rp" x="1029.9" y="355.4"/><use xlink:href="#rp" x="1031.7" y="354.5"/><use xlink:href="#rp" x="1033.5" y="353.7"/><use xlink:href="#rp" x="1035.3" y="352.9"/><use xlink:href="#rp" x="1037.2" y="352.2"/><use xlink:href="#rp" x="1039.1" y="351.4"/><use xlink:href="#rp" x="1040.9" y="350.7"/><use xlink:href="#rp" x="1042.8" y="350.0"/><use xlink:href="#rp" x="1044.7" y="349.3"/><use xlink:href="#rp" x="1046.5" y="348.6"/><use xlink:href="#rp" x="1048.4" y="348.0"/><use xlink:href="#rp" x="1050.3" y="347.3"/><use xlink:href="#rp" x="1052.2" y="346.7"/><use xlink:href="#rp" x="1054.1" y="346.0"/><use xlink:href="#rp" x="1056.0" y="345.4"/><use xlink:href="#rp" x="1057.9" y="344.7"/><use xlink:href="#rp" x="1059.8" y="344.1"/><use xlink:href="#rp" x="1061.7" y="343.5"/><use xlink:href="#rp" x="1063.6" y="342.8"/><use xlink:href="#rp" x="1065.5" y="342.2"/><use xlink:href="#rp" x="1067.4" y="341.6"/><use xlink:href="#rp" x="1069.3" y="341.0"/><use xlink:href="#rp" x="1071.2" y="340.4"/><use xlink:href="#rp" x="1073.1" y="339.8"/><use xlink:href="#rp" x="1075.0" y="339.2"/><use xlink:href="#rp" x="1076.9" y="338.7"/><use xlink:href="#rp" x="1078.9" y="338.1"/><use xlink:href="#rp" x="1080.8" y="337.5"/><use xlink:href="#rp" x="1082.7" y="336.9"/><use xlink:href="#rp" x="1084.6" y="336.4"/><use xlink:href="#rp" x="1086.5" y="335.8"/><use xlink:href="#rp" x="1088.4" y="335.2"/><use xlink:href="#rp" x="1090.4" y="334.7"/><use xlink:href="#rp" x="1092.3" y="334.1"/><use xlink:href="#rp" x="1094.2" y="333.6"/><use xlink:href="#rp" x="1096.1" y="333.0"/><use xlink:href="#rp" x="1098.1" y="332.5"/><use xlink:href="#rp" x="1100.0" y="332.0"/><use xlink:href="#rp" x="1101.9" y="331.4"/><use xlink:href="#rp" x="1103.8" y="330.9"/><use xlink:href="#rp" x="1105.8" y="330.4"/><use xlink:href="#rp" x="1107.7" y="329.8"/><use xlink:href="#rp" x="1109.6" y="329.3"/><use xlink:href="#rp" x="1111.6" y="328.8"/><use xlink:href="#rp" x="1113.5" y="328.3"/><use xlink:href="#rp" x="1115.4" y="327.8"/><use xlink:href="#rp" x="1117.4" y="327.2"/><use xlink:href="#rp" x="1119.3" y="326.7"/><use xlink:href="#rp" x="1121.2" y="326.2"/><use xlink:href="#rp" x="1123.2" y="325.7"/><use xlink:href="#rp" x="1125.1" y="325.2"/><use xlink:href="#rp" x="1127.0" y="324.7"/><use xlink:href="#rp" x="1129.0" y="324.2"/><use xlink:href="#rp" x="1130.9" y="323.7"/><use xlink:href="#rp" x="1132.8" y="323.2"/><use xlink:href="#rp" x="1134.8" y="322.7"/><use xlink:href="#rp" x="1136.7" y="322.3"/><use xlink:href="#rp" x="1138.7" y="321.8"/><use xlink:href="#rp" x="1140.6" y="321.3"/><use xlink:href="#rp" x="1142.6" y="320.8"/><use xlink:href="#rp" x="1144.5" y="320.3"/><use xlink:href="#rp" x="1146.4" y="319.9"/><use xlink:href="#rp" x="1148.4" y="319.4"/><use xlink:href="#rp" x="1150.3" y="318.9"/><use xlink:href="#rp" x="1152.3" y="318.5"/><use xlink:href="#rp" x="1154.2" y="318.0"/><use xlink:href="#rp" x="1156.2" y="317.5"/><use xlink:href="#rp" x="1158.1" y="317.1"/><use xlink:href="#rp" x="1160.1" y="316.6"/><use xlink:href="#rp" x="1162.0" y="316.2"/><use xlink:href="#rp" x="1164.0" y="315.7"/><use xlink:href="#rp" x="1165.9" y="315.3"/><use xlink:href="#rp" x="1167.9" y="314.8"/><use xlink:href="#rp" x="1169.8" y="314.4"/><use xlink:href="#rp" x="1171.8" y="314.0"/><use xlink:href="#rp" x="1173.7" y="313.5"/><use xlink:href="#rp" x="1175.7" y="313.1"/><use xlink:href="#rp" x="1177.6" y="312.7"/><use xlink:href="#rp" x="1179.6" y="312.2"/><use xlink:href="#rp" x="1181.5" y="311.8"/><use xlink:href="#rp" x="1183.5" y="311.4"/><use xlink:href="#rp" x="1185.4" y="311.0"/><use xlink:href="#rp" x="1187.4" y="310.6"/><use xlink:href="#rp" x="1189.3" y="310.1"/><use xlink:href="#rp" x="1191.3" y="309.7"/><use xlink:href="#rp" x="1193.3" y="309.3"/><use xlink:href="#rp" x="1195.2" y="308.9"/><use xlink:href="#rp" x="1197.2" y="308.5"/><use xlink:href="#rp" x="1199.1" y="308.0"/><use xlink:href="#rp" x="1201.1" y="307.6"/><use xlink:href="#rp" x="1203.0" y="307.2"/><use xlink:href="#rp" x="1205.0" y="306.8"/><use xlink:href="#rp" x="1206.9" y="306.3"/><use xlink:href="#rp" x="1208.9" y="305.9"/><use xlink:href="#rp" x="1210.9" y="305.5"/><use xlink:href="#rp" x="1212.8" y="305.1"/><use xlink:href="#rp" x="1214.8" y="304.7"/><use xlink:href="#rp" x="1216.7" y="304.3"/><use xlink:href="#rp" x="1218.7" y="303.8"/><use xlink:href="#rp" x="1220.6" y="303.4"/><use xlink:href="#rp" x="1222.6" y="303.0"/><use xlink:href="#rp" x="1224.5" y="302.6"/><use xlink:href="#rp" x="1226.5" y="302.2"/><use xlink:href="#rp" x="1228.5" y="301.8"/><use xlink:href="#rp" x="1230.4" y="301.4"/><use xlink:href="#rp" x="1232.4" y="300.9"/><use xlink:href="#rp" x="1234.3" y="300.5"/><use xlink:href="#rp" x="1236.3" y="300.1"/><use xlink:href="#rp" x="1238.3" y="299.7"/><use xlink:href="#rp" x="1240.2" y="299.3"/><use xlink:href="#rp" x="1242.2" y="298.9"/><use xlink:href="#rp" x="1244.1" y="298.5"/><use xlink:href="#rp" x="1246.1" y="298.1"/><use xlink:href="#rp" x="1248.0" y="297.7"/><use xlink:href="#rp" x="1250.0" y="297.3"/><use xlink:href="#rp" x="1252.0" y="296.9"/><use xlink:href="#rp" x="1253.9" y="296.5"/><use xlink:href="#rp" x="1255.9" y="296.1"/><use xlink:href="#rp" x="1257.8" y="295.7"/><use xlink:href="#rp" x="1259.8" y="295.3"/><use xlink:href="#rp" x="1261.8" y="294.9"/><use xlink:href="#rp" x="1263.7" y="294.5"/><use xlink:href="#rp" x="1265.7" y="294.1"/><use xlink:href="#rp" x="1267.6" y="293.7"/><use xlink:href="#rp" x="1269.6" y="293.3"/><use xlink:href="#rp" x="1271.6" y="292.9"/><use xlink:href="#rp" x="1273.5" y="292.5"/><use xlink:href="#rp" x="1275.5" y="292.1"/><use xlink:href="#rp" x="1277.4" y="291.7"/><use xlink:href="#rp" x="1279.4" y="291.3"/><use xlink:href="#rp" x="1281.4" y="290.9"/><use xlink:href="#rp" x="1283.3" y="290.6"/><use xlink:href="#rp" x="1285.3" y="290.2"/><use xlink:href="#rp" x="1287.3" y="289.8"/><use xlink:href="#rp" x="1289.2" y="289.4"/><use xlink:href="#rp" x="1291.2" y="289.1"/><use xlink:href="#rp" x="1293.2" y="288.7"/><use xlink:href="#rp" x="1295.1" y="288.4"/><use xlink:href="#rp" x="1297.1" y="288.0"/><use xlink:href="#rp" x="1299.1" y="287.7"/><use xlink:href="#rp" x="1301.0" y="287.3"/><use xlink:href="#rp" x="1303.0" y="287.0"/><use xlink:href="#rp" x="1305.0" y="286.6"/><use xlink:href="#rp" x="1306.9" y="286.3"/><use xlink:href="#rp" x="1308.9" y="285.9"/><use xlink:href="#rp" x="1310.9" y="285.6"/><use xlink:href="#rp" x="1312.9" y="285.2"/><use xlink:href="#rp" x="1314.8" y="284.9"/><use xlink:href="#rp" x="1316.8" y="284.5"/><use xlink:href="#rp" x="1318.8" y="284.2"/><use xlink:href="#rp" x="1320.7" y="283.8"/><use xlink:href="#rp" x="1322.7" y="283.4"/><use xlink:href="#rp" x="1324.7" y="283.1"/><use xlink:href="#rp" x="1326.6" y="282.7"/><use xlink:href="#rp" x="1328.6" y="282.3"/><use xlink:href="#rp" x="1330.5" y="281.9"/><use xlink:href="#rp" x="1332.5" y="281.6"/><use xlink:href="#rp" x="1334.5" y="281.2"/><use xlink:href="#rp" x="1336.4" y="280.8"/><use xlink:href="#rp" x="1338.4" y="280.4"/><use xlink:href="#rp" x="1340.4" y="280.0"/><use xlink:href="#rp" x="1342.3" y="279.7"/><use xlink:href="#rp" x="1344.3" y="279.3"/><use xlink:href="#rp" x="1346.3" y="278.9"/><use xlink:href="#rp" x="1348.2" y="278.5"/><use xlink:href="#rp" x="1350.2" y="278.1"/><use xlink:href="#rp" x="1352.1" y="277.7"/><use xlink:href="#rp" x="1354.1" y="277.3"/><use xlink:href="#rp" x="1356.1" y="276.9"/><use xlink:href="#rp" x="1358.0" y="276.5"/><use xlink:href="#rp" x="1360.0" y="276.1"/><use xlink:href="#rp" x="1361.9" y="275.7"/><use xlink:href="#rp" x="1363.9" y="275.2"/><use xlink:href="#rp" x="1365.8" y="274.8"/><use xlink:href="#rp" x="1367.8" y="274.4"/><use xlink:href="#rp" x="1369.7" y="273.9"/><use xlink:href="#rp" x="1371.7" y="273.5"/><use xlink:href="#rp" x="1373.6" y="273.0"/><use xlink:href="#rp" x="1375.6" y="272.6"/><use xlink:href="#rp" x="1377.5" y="272.1"/><use xlink:href="#rp" x="1379.5" y="271.6"/><use xlink:href="#rp" x="1381.4" y="271.1"/><use xlink:href="#rp" x="1383.3" y="270.7"/><use xlink:href="#rp" x="1385.3" y="270.2"/><use xlink:href="#rp" x="1387.2" y="269.7"/><use xlink:href="#rp" x="1389.2" y="269.2"/><use xlink:href="#rp" x="1391.1" y="268.7"/><use xlink:href="#rp" x="1393.0" y="268.2"/><use xlink:href="#rp" x="1395.0" y="267.7"/><use xlink:href="#rp" x="1396.9" y="267.2"/><use xlink:href="#rp" x="1398.9" y="266.7"/><use xlink:href="#rp" x="1400.8" y="266.3"/><use xlink:href="#rp" x="1402.7" y="265.8"/><use xlink:href="#rp" x="1404.7" y="265.3"/><use xlink:href="#rp" x="1406.6" y="264.8"/><use xlink:href="#rp" x="1408.6" y="264.3"/><use xlink:href="#rp" x="1410.5" y="263.8"/><use xlink:href="#rp" x="1412.4" y="263.3"/><use xlink:href="#rp" x="1414.4" y="262.8"/><use xlink:href="#rp" x="1416.3" y="262.4"/><use xlink:href="#rp" x="1418.3" y="261.9"/><use xlink:href="#rp" x="1420.2" y="261.4"/><use xlink:href="#rp" x="1422.1" y="260.9"/><use xlink:href="#rp" x="1424.1" y="260.4"/><use xlink:href="#rp" x="1426.0" y="259.9"/><use xlink:href="#rp" x="1427.9" y="259.4"/><use xlink:href="#rp" x="1429.9" y="258.9"/><use xlink:href="#rp" x="1431.8" y="258.4"/><use xlink:href="#rp" x="1433.8" y="257.9"/><use xlink:href="#rp" x="1435.7" y="257.4"/><use xlink:href="#rp" x="1437.6" y="256.9"/><use xlink:href="#rp" x="1439.6" y="256.4"/><use xlink:href="#rp" x="1441.5" y="256.0"/><use xlink:href="#rp" x="1443.5" y="255.5"/><use xlink:href="#rp" x="1445.4" y="255.0"/><use xlink:href="#rp" x="1447.3" y="254.5"/><use xlink:href="#rp" x="1449.3" y="254.0"/><use xlink:href="#rp" x="1451.2" y="253.5"/><use xlink:href="#rp" x="1453.1" y="253.0"/><use xlink:href="#rp" x="1455.1" y="252.5"/><use xlink:href="#rp" x="1457.0" y="252.0"/><use xlink:href="#rp" x="1459.0" y="251.5"/><use xlink:href="#rp" x="1460.9" y="251.0"/><use xlink:href="#rp" x="1462.8" y="250.5"/><use xlink:href="#rp" x="1464.8" y="250.0"/><use xlink:href="#rp" x="1466.7" y="249.6"/><use xlink:href="#rp" x="1468.7" y="249.1"/><use xlink:href="#rp" x="1470.6" y="248.6"/><use xlink:href="#rp" x="1472.5" y="248.1"/><use xlink:href="#rp" x="1474.5" y="247.6"/><use xlink:href="#rp" x="1476.4" y="247.2"/><use xlink:href="#rp" x="1478.4" y="246.7"/><use xlink:href="#rp" x="1480.3" y="246.2"/><use xlink:href="#rp" x="1482.3" y="245.8"/><use xlink:href="#rp" x="1484.2" y="245.3"/><use xlink:href="#rp" x="1486.2" y="244.9"/><use xlink:href="#rp" x="1488.1" y="244.4"/><use xlink:href="#rp" x="1490.1" y="244.0"/><use xlink:href="#rp" x="1492.0" y="243.5"/><use xlink:href="#rp" x="1494.0" y="243.1"/><use xlink:href="#rp" x="1495.9" y="242.6"/><use xlink:href="#rp" x="1497.9" y="242.2"/><use xlink:href="#rp" x="1499.8" y="241.8"/><use xlink:href="#rp" x="1501.8" y="241.3"/><use xlink:href="#rp" x="1503.7" y="240.9"/><use xlink:href="#rp" x="1505.7" y="240.5"/><use xlink:href="#rp" x="1507.6" y="240.1"/><use xlink:href="#rp" x="1509.6" y="239.7"/><use xlink:href="#rp" x="1511.5" y="239.3"/><use xlink:href="#rp" x="1513.5" y="238.9"/><use xlink:href="#rp" x="1515.5" y="238.4"/><use xlink:href="#rp" x="1517.4" y="238.0"/><use xlink:href="#rp" x="1519.4" y="237.6"/><use xlink:href="#rp" x="1521.3" y="237.3"/><use xlink:href="#rp" x="1523.3" y="236.9"/><use xlink:href="#rp" x="1525.3" y="236.5"/><use xlink:href="#rp" x="1527.2" y="236.1"/><use xlink:href="#rp" x="1529.2" y="235.7"/><use xlink:href="#rp" x="1531.2" y="235.3"/><use xlink:href="#rp" x="1533.1" y="235.0"/><use xlink:href="#rp" x="1535.1" y="234.6"/><use xlink:href="#rp" x="1537.1" y="234.2"/><use xlink:href="#rp" x="1539.0" y="233.9"/><use xlink:href="#rp" x="1541.0" y="233.5"/><use xlink:href="#rp" x="1543.0" y="233.2"/><use xlink:href="#rp" x="1544.9" y="232.9"/><use xlink:href="#rp" x="1546.9" y="232.5"/><use xlink:href="#rp" x="1548.9" y="232.2"/><use xlink:href="#rp" x="1550.9" y="231.9"/><use xlink:href="#rp" x="1552.8" y="231.5"/><use xlink:href="#rp" x="1554.8" y="231.2"/><use xlink:href="#rp" x="1556.8" y="230.9"/><use xlink:href="#rp" x="1558.7" y="230.6"/><use xlink:href="#rp" x="1560.7" y="230.2"/><use xlink:href="#rp" x="1562.7" y="229.9"/><use xlink:href="#rp" x="1564.7" y="229.6"/><use xlink:href="#rp" x="1566.6" y="229.2"/><use xlink:href="#rp" x="1568.6" y="228.9"/><use xlink:href="#rp" x="1570.6" y="228.5"/><use xlink:href="#rp" x="1572.5" y="228.1"/><use xlink:href="#rp" x="1574.5" y="227.8"/><use xlink:href="#rp" x="1576.5" y="227.4"/><use xlink:href="#rp" x="1578.4" y="227.1"/><use xlink:href="#rp" x="1580.4" y="226.7"/><use xlink:href="#rp" x="1582.4" y="226.3"/><use xlink:href="#rp" x="1584.3" y="226.0"/><use xlink:href="#rp" x="1586.3" y="225.6"/><use xlink:href="#rp" x="1588.3" y="225.3"/><use xlink:href="#rp" x="1590.2" y="224.9"/><use xlink:href="#rp" x="1592.2" y="224.5"/><use xlink:href="#rp" x="1594.2" y="224.2"/><use xlink:href="#rp" x="1596.1" y="223.8"/><use xlink:href="#rp" x="1598.1" y="223.4"/><use xlink:href="#rp" x="1600.1" y="223.1"/><use xlink:href="#rp" x="1602.0" y="222.7"/><use xlink:href="#rp" x="1604.0" y="222.4"/><use xlink:href="#rp" x="1606.0" y="222.0"/><use xlink:href="#rp" x="1607.9" y="221.6"/><use xlink:href="#rp" x="1609.9" y="221.2"/><use xlink:href="#rp" x="1611.9" y="220.9"/><use xlink:href="#rp" x="1613.8" y="220.5"/><use xlink:href="#rp" x="1615.8" y="220.1"/><use xlink:href="#rp" x="1617.8" y="219.8"/><use xlink:href="#rp" x="1619.7" y="219.4"/><use xlink:href="#rp" x="1621.7" y="219.0"/><use xlink:href="#rp" x="1623.7" y="218.7"/><use xlink:href="#rp" x="1625.6" y="218.3"/><use xlink:href="#rp" x="1627.6" y="218.0"/><use xlink:href="#rp" x="1629.6" y="217.6"/><use xlink:href="#rp" x="1631.5" y="217.3"/><use xlink:href="#rp" x="1633.5" y="216.9"/><use xlink:href="#rp" x="1635.5" y="216.6"/><use xlink:href="#rp" x="1637.5" y="216.2"/><use xlink:href="#rp" x="1639.4" y="215.9"/><use xlink:href="#rp" x="1641.4" y="215.5"/><use xlink:href="#rp" x="1643.4" y="215.2"/><use xlink:href="#rp" x="1645.3" y="214.8"/><use xlink:href="#rp" x="1647.3" y="214.5"/><use xlink:href="#rp" x="1649.3" y="214.2"/><use xlink:href="#rp" x="1651.2" y="213.8"/><use xlink:href="#rp" x="1653.2" y="213.5"/><use xlink:href="#rp" x="1655.2" y="213.2"/><use xlink:href="#rp" x="1657.2" y="212.8"/><use xlink:href="#rp" x="1659.1" y="212.5"/><use xlink:href="#rp" x="1661.1" y="212.2"/><use xlink:href="#rp" x="1663.1" y="211.9"/><use xlink:href="#rp" x="1665.1" y="211.6"/><use xlink:href="#rp" x="1667.0" y="211.2"/><use xlink:href="#rp" x="1669.0" y="210.9"/><use xlink:href="#rp" x="1671.0" y="210.6"/><use xlink:href="#rp" x="1673.0" y="210.3"/><use xlink:href="#rp" x="1674.9" y="210.0"/><use xlink:href="#rp" x="1676.9" y="209.7"/><use xlink:href="#rp" x="1678.9" y="209.4"/><use xlink:href="#rp" x="1680.9" y="209.1"/><use xlink:href="#rp" x="1682.8" y="208.8"/><use xlink:href="#rp" x="1684.8" y="208.5"/><use xlink:href="#rp" x="1686.8" y="208.2"/><use xlink:href="#rp" x="1688.8" y="207.9"/><use xlink:href="#rp" x="1690.8" y="207.7"/><use xlink:href="#rp" x="1692.7" y="207.4"/><use xlink:href="#rp" x="1694.7" y="207.1"/><use xlink:href="#rp" x="1696.7" y="206.8"/><use xlink:href="#rp" x="1698.7" y="206.5"/><use xlink:href="#rp" x="1700.7" y="206.2"/><use xlink:href="#rp" x="1702.6" y="206.0"/><use xlink:href="#rp" x="1704.6" y="205.7"/><use xlink:href="#rp" x="1706.6" y="205.5"/><use xlink:href="#rp" x="1708.6" y="205.2"/><use xlink:href="#rp" x="1710.6" y="204.9"/><use xlink:href="#rp" x="1712.6" y="204.7"/><use xlink:href="#rp" x="1714.6" y="204.5"/><use xlink:href="#rp" x="1716.5" y="204.2"/><use xlink:href="#rp" x="1718.5" y="204.0"/><use xlink:href="#rp" x="1720.5" y="203.8"/><use xlink:href="#rp" x="1722.5" y="203.6"/><use xlink:href="#rp" x="1724.5" y="203.4"/><use xlink:href="#rp" x="1726.5" y="203.2"/><use xlink:href="#rp" x="1728.5" y="203.0"/><use xlink:href="#rp" x="1730.5" y="202.8"/><use xlink:href="#rp" x="1732.5" y="202.6"/><use xlink:href="#rp" x="1734.4" y="202.4"/><use xlink:href="#rp" x="1736.4" y="202.2"/><use xlink:href="#rp" x="1738.4" y="202.1"/><use xlink:href="#rp" x="1740.4" y="201.9"/><use xlink:href="#rp" x="1742.4" y="201.7"/><use xlink:href="#rp" x="1744.4" y="201.5"/><use xlink:href="#rp" x="1746.4" y="201.4"/><use xlink:href="#rp" x="1748.4" y="201.2"/><use xlink:href="#rp" x="1750.4" y="201.1"/><use xlink:href="#rp" x="1752.4" y="200.9"/><use xlink:href="#rp" x="1754.4" y="200.7"/><use xlink:href="#rp" x="1756.4" y="200.6"/><use xlink:href="#rp" x="1758.4" y="200.4"/><use xlink:href="#rp" x="1760.4" y="200.3"/><use xlink:href="#rp" x="1762.4" y="200.1"/><use xlink:href="#rp" x="1764.3" y="200.0"/><use xlink:href="#rp" x="1766.3" y="199.9"/><use xlink:href="#rp" x="1768.3" y="199.7"/><use xlink:href="#rp" x="1770.3" y="199.6"/><use xlink:href="#rp" x="1772.3" y="199.5"/><use xlink:href="#rp" x="1774.3" y="199.3"/><use xlink:href="#rp" x="1776.3" y="199.2"/><use xlink:href="#rp" x="1778.3" y="199.1"/><use xlink:href="#rp" x="1780.3" y="199.0"/><use xlink:href="#rp" x="1782.3" y="198.9"/><use xlink:href="#rp" x="1784.3" y="198.7"/><use xlink:href="#rp" x="1786.3" y="198.6"/><use xlink:href="#rp" x="1788.3" y="198.5"/><use xlink:href="#rp" x="1790.3" y="198.4"/><use xlink:href="#rp" x="1792.3" y="198.3"/><use xlink:href="#rp" x="1794.3" y="198.2"/><use xlink:href="#rp" x="1796.3" y="198.1"/><use xlink:href="#rp" x="1798.3" y="198.0"/><use xlink:href="#rp" x="1800.3" y="197.9"/><use xlink:href="#rp" x="1802.3" y="197.9"/><use xlink:href="#rp" x="1804.3" y="197.8"/><use xlink:href="#rp" x="1806.3" y="197.7"/><use xlink:href="#rp" x="1808.3" y="197.6"/><use xlink:href="#rp" x="1810.3" y="197.5"/><use xlink:href="#rp" x="1812.3" y="197.5"/><use xlink:href="#rp" x="1814.3" y="197.4"/></g>
<g><use xlink:href="#bp" x="1816.5" y="214.3"/><use xlink:href="#bp" x="1815.0" y="171.9"/><use xlink:href="#bp" x="1813.5" y="217.4"/><use xlink:href="#bp" x="1812.0" y="186.5"/><use xlink:href="#bp" x="1810.5" y="221.8"/><use xlink:href="#bp" x="1809.0" y="191.2"/><use xlink:href="#bp" x="1807.5" y="226.0"/><use xlink:href="#bp" x="1806.0" y="195.2"/><use xlink:href="#bp" x="1804.5" y="229.6"/><use xlink:href="#bp" x="1803.0" y="199.5"/><use xlink:href="#bp" x="1801.5" y="230.5"/><use xlink:href="#bp" x="1800.0" y="203.6"/><use xlink:href="#bp" x="1798.5" y="234.9"/><use xlink:href="#bp" x="1797.0" y="208.3"/><use xlink:href="#bp" x="1795.5" y="231.4"/><use xlink:href="#bp" x="1794.0" y="212.2"/><use xlink:href="#bp" x="1792.5" y="230.3"/><use xlink:href="#bp" x="1791.0" y="215.1"/><use xlink:href="#bp" x="1789.5" y="230.0"/><use xlink:href="#bp" x="1788.0" y="217.1"/><use xlink:href="#bp" x="1786.5" y="230.2"/><use xlink:href="#bp" x="1785.0" y="218.5"/><use xlink:href="#bp" x="1783.5" y="231.0"/><use xlink:href="#bp" x="1782.0" y="219.0"/><use xlink:href="#bp" x="1780.5" y="232.2"/><use xlink:href="#bp" x="1779.0" y="216.7"/><use xlink:href="#bp" x="1777.5" y="234.0"/><use xlink:href="#bp" x="1776.0" y="221.0"/><use xlink:href="#bp" x="1774.5" y="236.5"/><use xlink:href="#bp" x="1773.0" y="226.9"/><use xlink:href="#bp" x="1771.5" y="239.7"/><use xlink:href="#bp" x="1770.0" y="232.1"/><use xlink:href="#bp" x="1768.5" y="242.4"/><use xlink:href="#bp" x="1767.0" y="237.6"/><use xlink:href="#bp" x="1765.5" y="244.9"/><use xlink:href="#bp" x="1764.0" y="243.1"/><use xlink:href="#bp" x="1762.5" y="247.7"/><use xlink:href="#bp" x="1761.0" y="246.6"/><use xlink:href="#bp" x="1759.5" y="250.3"/><use xlink:href="#bp" x="1758.0" y="248.9"/><use xlink:href="#bp" x="1756.5" y="253.0"/><use xlink:href="#bp" x="1755.0" y="250.4"/><use xlink:href="#bp" x="1753.5" y="256.9"/><use xlink:href="#bp" x="1752.0" y="251.2"/><use xlink:href="#bp" x="1750.5" y="261.5"/><use xlink:href="#bp" x="1749.0" y="251.4"/><use xlink:href="#bp" x="1747.5" y="265.1"/><use xlink:href="#bp" x="1746.0" y="251.8"/><use xlink:href="#bp" x="1744.5" y="270.8"/><use xlink:href="#bp" x="1743.0" y="252.8"/><use xlink:href="#bp" x="1741.5" y="267.7"/><use xlink:href="#bp" x="1740.0" y="253.4"/><use xlink:href="#bp" x="1738.5" y="267.5"/><use xlink:href="#bp" x="1737.0" y="253.4"/><use xlink:href="#bp" x="1735.5" y="268.4"/><use xlink:href="#bp" x="1734.0" y="254.8"/><use xlink:href="#bp" x="1732.5" y="269.6"/><use xlink:href="#bp" x="1731.0" y="256.1"/><use xlink:href="#bp" x="1729.5" y="269.0"/><use xlink:href="#bp" x="1728.0" y="256.0"/><use xlink:href="#bp" x="1726.5" y="269.0"/><use xlink:href="#bp" x="1725.0" y="256.9"/><use xlink:href="#bp" x="1723.5" y="269.8"/><use xlink:href="#bp" x="1722.0" y="261.4"/><use xlink:href="#bp" x="1720.5" y="271.3"/><use xlink:href="#bp" x="1719.0" y="263.5"/><use xlink:href="#bp" x="1717.5" y="273.7"/><use xlink:href="#bp" x="1716.0" y="266.6"/><use xlink:href="#bp" x="1714.5" y="276.8"/><use xlink:href="#bp" x="1713.0" y="270.1"/><use xlink:href="#bp" x="1711.5" y="279.2"/><use xlink:href="#bp" x="1710.0" y="272.6"/><use xlink:href="#bp" x="1708.5" y="281.5"/><use xlink:href="#bp" x="1707.0" y="274.2"/><use xlink:href="#bp" x="1705.5" y="284.0"/><use xlink:href="#bp" x="1704.0" y="275.2"/><use xlink:href="#bp" x="1702.5" y="286.4"/><use xlink:href="#bp" x="1701.0" y="276.3"/><use xlink:href="#bp" x="1699.5" y="288.6"/><use xlink:href="#bp" x="1698.0" y="277.5"/><use xlink:href="#bp" x="1696.5" y="290.5"/><use xlink:href="#bp" x="1695.0" y="278.6"/><use xlink:href="#bp" x="1693.5" y="292.2"/><use xlink:href="#bp" x="1692.0" y="280.0"/><use xlink:href="#bp" x="1690.5" y="295.3"/><use xlink:href="#bp" x="1689.0" y="281.5"/><use xlink:href="#bp" x="1687.5" y="296.4"/><use xlink:href="#bp" x="1686.0" y="282.5"/><use xlink:href="#bp" x="1684.5" y="296.2"/><use xlink:href="#bp" x="1683.0" y="283.0"/><use xlink:href="#bp" x="1681.5" y="298.5"/><use xlink:href="#bp" x="1680.0" y="283.0"/><use xlink:href="#bp" x="1678.5" y="298.5"/><use xlink:href="#bp" x="1677.0" y="282.5"/><use xlink:href="#bp" x="1675.5" y="297.2"/><use xlink:href="#bp" x="1674.0" y="281.4"/><use xlink:href="#bp" x="1672.5" y="298.2"/><use xlink:href="#bp" x="1671.0" y="279.7"/><use xlink:href="#bp" x="1669.5" y="295.3"/><use xlink:href="#bp" x="1668.0" y="277.2"/><use xlink:href="#bp" x="1666.5" y="293.7"/><use xlink:href="#bp" x="1665.0" y="273.6"/><use xlink:href="#bp" x="1663.5" y="292.3"/><use xlink:href="#bp" x="1662.0" y="268.8"/><use xlink:href="#bp" x="1660.5" y="290.3"/><use xlink:href="#bp" x="1659.0" y="264.6"/><use xlink:href="#bp" x="1657.5" y="288.5"/><use xlink:href="#bp" x="1656.0" y="260.7"/><use xlink:href="#bp" x="1654.5" y="286.9"/><use xlink:href="#bp" x="1653.0" y="255.5"/><use xlink:href="#bp" x="1651.5" y="285.0"/><use xlink:href="#bp" x="1650.0" y="256.7"/><use xlink:href="#bp" x="1648.5" y="282.8"/><use xlink:href="#bp" x="1647.0" y="255.7"/><use xlink:href="#bp" x="1645.5" y="280.6"/><use xlink:href="#bp" x="1644.0" y="253.6"/><use xlink:href="#bp" x="1642.5" y="278.8"/><use xlink:href="#bp" x="1641.0" y="252.8"/><use xlink:href="#bp" x="1639.5" y="276.4"/><use xlink:href="#bp" x="1638.0" y="252.3"/><use xlink:href="#bp" x="1636.5" y="273.9"/><use xlink:href="#bp" x="1635.0" y="251.1"/><use xlink:href="#bp" x="1633.5" y="272.0"/><use xlink:href="#bp" x="1632.0" y="249.8"/><use xlink:href="#bp" x="1630.5" y="270.8"/><use xlink:href="#bp" x="1629.0" y="250.3"/><use xlink:href="#bp" x="1627.5" y="270.2"/><use xlink:href="#bp" x="1626.0" y="250.0"/><use xlink:href="#bp" x="1624.5" y="270.1"/><use xlink:href="#bp" x="1623.0" y="248.6"/><use xlink:href="#bp" x="1621.5" y="270.5"/><use xlink:href="#bp" x="1620.0" y="244.3"/><use xlink:href="#bp" x="1618.5" y="271.6"/><use xlink:href="#bp" x="1617.0" y="248.1"/><use xlink:href="#bp" x="1615.5" y="273.2"/><use xlink:href="#bp" x="1614.0" y="249.9"/><use xlink:href="#bp" x="1612.5" y="274.4"/><use xlink:href="#bp" x="1611.0" y="251.0"/><use xlink:href="#bp" x="1609.5" y="275.2"/><use xlink:href="#bp" x="1608.0" y="253.3"/><use xlink:href="#bp" x="1606.5" y="277.2"/><use xlink:href="#bp" x="1605.0" y="255.8"/><use xlink:href="#bp" x="1603.5" y="278.1"/><use xlink:href="#bp" x="1602.0" y="257.8"/><use xlink:href="#bp" x="1600.5" y="276.8"/><use xlink:href="#bp" x="1599.0" y="259.1"/><use xlink:href="#bp" x="1597.5" y="276.9"/><use xlink:href="#bp" x="1596.0" y="259.8"/><use xlink:href="#bp" x="1594.5" y="277.6"/><use xlink:href="#bp" x="1593.0" y="259.9"/><use xlink:href="#bp" x="1591.5" y="277.5"/><use xlink:href="#bp" x="1590.0" y="259.6"/><use xlink:href="#bp" x="1588.5" y="277.3"/><use xlink:href="#bp" x="1587.0" y="259.1"/><use xlink:href="#bp" x="1585.5" y="277.3"/><use xlink:href="#bp" x="1584.0" y="258.7"/><use xlink:href="#bp" x="1582.5" y="277.4"/><use xlink:href="#bp" x="1581.0" y="257.3"/><use xlink:href="#bp" x="1579.5" y="277.5"/><use xlink:href="#bp" x="1578.0" y="256.3"/><use xlink:href="#bp" x="1576.5" y="277.6"/><use xlink:href="#bp" x="1575.0" y="259.7"/><use xlink:href="#bp" x="1573.5" y="277.6"/><use xlink:href="#bp" x="1572.0" y="261.1"/><use xlink:href="#bp" x="1570.5" y="277.7"/><use xlink:href="#bp" x="1569.0" y="261.8"/><use xlink:href="#bp" x="1567.5" y="277.8"/><use xlink:href="#bp" x="1566.0" y="262.3"/><use xlink:href="#bp" x="1564.5" y="277.8"/><use xlink:href="#bp" x="1563.0" y="262.6"/><use xlink:href="#bp" x="1561.5" y="277.9"/><use xlink:href="#bp" x="1560.0" y="262.5"/><use xlink:href="#bp" x="1558.5" y="278.0"/><use xlink:href="#bp" x="1557.0" y="262.7"/><use xlink:href="#bp" x="1555.5" y="278.1"/><use xlink:href="#bp" x="1554.0" y="263.9"/><use xlink:href="#bp" x="1552.5" y="278.1"/><use xlink:href="#bp" x="1551.0" y="264.2"/><use xlink:href="#bp" x="1549.5" y="278.2"/><use xlink:href="#bp" x="1548.0" y="262.5"/><use xlink:href="#bp" x="1546.5" y="278.5"/><use xlink:href="#bp" x="1545.0" y="264.4"/><use xlink:href="#bp" x="1543.5" y="278.4"/><use xlink:href="#bp" x="1542.0" y="266.8"/><use xlink:href="#bp" x="1540.5" y="278.1"/><use xlink:href="#bp" x="1539.0" y="268.1"/><use xlink:href="#bp" x="1537.5" y="278.1"/><use xlink:href="#bp" x="1536.0" y="270.3"/><use xlink:href="#bp" x="1534.5" y="278.7"/><use xlink:href="#bp" x="1533.0" y="272.3"/><use xlink:href="#bp" x="1531.5" y="279.9"/><use xlink:href="#bp" x="1530.0" y="273.6"/><use xlink:href="#bp" x="1528.5" y="281.9"/><use xlink:href="#bp" x="1527.0" y="274.3"/><use xlink:href="#bp" x="1525.5" y="285.0"/><use xlink:href="#bp" x="1524.0" y="274.5"/><use xlink:href="#bp" x="1522.5" y="287.4"/><use xlink:href="#bp" x="1521.0" y="274.2"/><use xlink:href="#bp" x="1519.5" y="289.1"/><use xlink:href="#bp" x="1518.0" y="273.3"/><use xlink:href="#bp" x="1516.5" y="293.5"/><use xlink:href="#bp" x="1515.0" y="271.8"/><use xlink:href="#bp" x="1513.5" y="289.1"/><use xlink:href="#bp" x="1512.0" y="270.2"/><use xlink:href="#bp" x="1510.5" y="287.9"/><use xlink:href="#bp" x="1509.0" y="269.1"/><use xlink:href="#bp" x="1507.5" y="288.2"/><use xlink:href="#bp" x="1506.0" y="267.9"/><use xlink:href="#bp" x="1504.5" y="287.1"/><use xlink:href="#bp" x="1503.0" y="266.7"/><use xlink:href="#bp" x="1501.5" y="285.1"/><use xlink:href="#bp" x="1500.0" y="265.5"/><use xlink:href="#bp" x="1498.5" y="283.9"/><use xlink:href="#bp" x="1497.0" y="264.1"/><use xlink:href="#bp" x="1495.5" y="282.7"/><use xlink:href="#bp" x="1494.0" y="262.4"/><use xlink:href="#bp" x="1492.5" y="280.9"/><use xlink:href="#bp" x="1491.0" y="261.1"/><use xlink:href="#bp" x="1489.5" y="279.7"/><use xlink:href="#bp" x="1488.0" y="259.6"/><use xlink:href="#bp" x="1486.5" y="278.8"/><use xlink:href="#bp" x="1485.0" y="257.8"/><use xlink:href="#bp" x="1483.5" y="275.9"/><use xlink:href="#bp" x="1482.0" y="256.7"/><use xlink:href="#bp" x="1480.5" y="273.5"/><use xlink:href="#bp" x="1479.0" y="256.5"/><use xlink:href="#bp" x="1477.5" y="271.4"/><use xlink:href="#bp" x="1476.0" y="256.3"/><use xlink:href="#bp" x="1474.5" y="268.6"/><use xlink:href="#bp" x="1473.0" y="255.3"/><use xlink:href="#bp" x="1471.5" y="265.8"/><use xlink:href="#bp" x="1470.0" y="252.9"/><use xlink:href="#bp" x="1468.5" y="263.8"/><use xlink:href="#bp" x="1467.0" y="257.3"/><use xlink:href="#bp" x="1465.5" y="262.5"/><use xlink:href="#bp" x="1464.0" y="258.8"/><use xlink:href="#bp" x="1462.5" y="261.7"/><use xlink:href="#bp" x="1461.0" y="259.3"/><use xlink:href="#bp" x="1459.5" y="261.5"/><use xlink:href="#bp" x="1458.0" y="261.4"/><use xlink:href="#bp" x="1456.5" y="261.9"/><use xlink:href="#bp" x="1455.0" y="263.6"/><use xlink:href="#bp" x="1453.5" y="262.7"/><use xlink:href="#bp" x="1452.0" y="265.3"/><use xlink:href="#bp" x="1450.5" y="263.6"/><use xlink:href="#bp" x="1449.0" y="266.4"/><use xlink:href="#bp" x="1447.5" y="264.2"/><use xlink:href="#bp" x="1446.0" y="267.1"/><use xlink:href="#bp" x="1444.5" y="264.9"/><use xlink:href="#bp" x="1443.0" y="267.7"/><use xlink:href="#bp" x="1441.5" y="265.3"/><use xlink:href="#bp" x="1440.0" y="268.6"/><use xlink:href="#bp" x="1438.5" y="265.5"/><use xlink:href="#bp" x="1437.0" y="269.5"/><use xlink:href="#bp" x="1435.5" y="266.2"/><use xlink:href="#bp" x="1434.0" y="270.3"/><use xlink:href="#bp" x="1432.5" y="267.6"/><use xlink:href="#bp" x="1431.0" y="270.9"/><use xlink:href="#bp" x="1429.5" y="269.8"/><use xlink:href="#bp" x="1428.0" y="271.7"/><use xlink:href="#bp" x="1426.5" y="273.3"/><use xlink:href="#bp" x="1425.0" y="273.0"/><use xlink:href="#bp" x="1423.5" y="279.5"/><use xlink:href="#bp" x="1422.0" y="273.9"/><use xlink:href="#bp" x="1420.5" y="288.2"/><use xlink:href="#bp" x="1419.0" y="274.4"/><use xlink:href="#bp" x="1417.5" y="297.2"/><use xlink:href="#bp" x="1416.0" y="274.3"/><use xlink:href="#bp" x="1414.5" y="306.1"/><use xlink:href="#bp" x="1413.0" y="273.6"/><use xlink:href="#bp" x="1411.5" y="314.6"/><use xlink:href="#bp" x="1410.8" y="293.7"/><use xlink:href="#bp" x="1410.0" y="272.4"/><use xlink:href="#bp" x="1408.5" y="315.2"/><use xlink:href="#bp" x="1407.0" y="270.6"/><use xlink:href="#bp" x="1405.5" y="319.5"/><use xlink:href="#bp" x="1404.8" y="293.0"/><use xlink:href="#bp" x="1404.0" y="268.7"/><use xlink:href="#bp" x="1402.5" y="315.1"/><use xlink:href="#bp" x="1401.0" y="267.3"/><use xlink:href="#bp" x="1399.5" y="315.8"/><use xlink:href="#bp" x="1398.8" y="289.7"/><use xlink:href="#bp" x="1398.0" y="265.9"/><use xlink:href="#bp" x="1396.5" y="311.1"/><use xlink:href="#bp" x="1395.0" y="264.5"/><use xlink:href="#bp" x="1393.5" y="307.0"/><use xlink:href="#bp" x="1392.8" y="283.9"/><use xlink:href="#bp" x="1392.0" y="262.7"/><use xlink:href="#bp" x="1390.5" y="302.9"/><use xlink:href="#bp" x="1389.0" y="260.8"/><use xlink:href="#bp" x="1387.5" y="298.3"/><use xlink:href="#bp" x="1386.8" y="278.1"/><use xlink:href="#bp" x="1386.0" y="259.9"/><use xlink:href="#bp" x="1384.5" y="294.2"/><use xlink:href="#bp" x="1383.0" y="257.9"/><use xlink:href="#bp" x="1381.5" y="291.4"/><use xlink:href="#bp" x="1380.8" y="271.3"/><use xlink:href="#bp" x="1380.0" y="252.3"/><use xlink:href="#bp" x="1378.5" y="289.4"/><use xlink:href="#bp" x="1377.0" y="257.0"/><use xlink:href="#bp" x="1375.5" y="288.2"/><use xlink:href="#bp" x="1374.0" y="261.2"/><use xlink:href="#bp" x="1372.5" y="287.5"/><use xlink:href="#bp" x="1371.0" y="265.4"/><use xlink:href="#bp" x="1369.5" y="287.3"/><use xlink:href="#bp" x="1368.0" y="269.9"/><use xlink:href="#bp" x="1366.5" y="287.7"/><use xlink:href="#bp" x="1365.0" y="274.1"/><use xlink:href="#bp" x="1363.5" y="288.6"/><use xlink:href="#bp" x="1362.0" y="277.0"/><use xlink:href="#bp" x="1360.5" y="290.2"/><use xlink:href="#bp" x="1359.0" y="279.0"/><use xlink:href="#bp" x="1357.5" y="292.3"/><use xlink:href="#bp" x="1356.0" y="280.2"/><use xlink:href="#bp" x="1354.5" y="294.1"/><use xlink:href="#bp" x="1353.0" y="280.9"/><use xlink:href="#bp" x="1351.5" y="296.1"/><use xlink:href="#bp" x="1350.0" y="281.2"/><use xlink:href="#bp" x="1348.5" y="300.2"/><use xlink:href="#bp" x="1347.0" y="280.8"/><use xlink:href="#bp" x="1345.5" y="294.2"/><use xlink:href="#bp" x="1344.0" y="280.0"/><use xlink:href="#bp" x="1342.5" y="291.6"/><use xlink:href="#bp" x="1341.0" y="278.6"/><use xlink:href="#bp" x="1339.5" y="290.2"/><use xlink:href="#bp" x="1338.0" y="276.7"/><use xlink:href="#bp" x="1336.5" y="289.5"/><use xlink:href="#bp" x="1335.0" y="275.2"/><use xlink:href="#bp" x="1333.5" y="288.9"/><use xlink:href="#bp" x="1332.0" y="274.0"/><use xlink:href="#bp" x="1330.5" y="287.7"/><use xlink:href="#bp" x="1329.0" y="272.6"/><use xlink:href="#bp" x="1327.5" y="286.7"/><use xlink:href="#bp" x="1326.0" y="271.1"/><use xlink:href="#bp" x="1324.5" y="285.9"/><use xlink:href="#bp" x="1323.0" y="269.7"/><use xlink:href="#bp" x="1321.5" y="284.3"/><use xlink:href="#bp" x="1320.0" y="268.3"/><use xlink:href="#bp" x="1318.5" y="283.1"/><use xlink:href="#bp" x="1317.0" y="267.2"/><use xlink:href="#bp" x="1315.5" y="283.5"/><use xlink:href="#bp" x="1314.0" y="266.0"/><use xlink:href="#bp" x="1312.5" y="280.9"/><use xlink:href="#bp" x="1311.0" y="264.8"/><use xlink:href="#bp" x="1309.5" y="278.2"/><use xlink:href="#bp" x="1308.0" y="263.6"/><use xlink:href="#bp" x="1306.5" y="276.0"/><use xlink:href="#bp" x="1305.0" y="262.4"/><use xlink:href="#bp" x="1303.5" y="272.9"/><use xlink:href="#bp" x="1302.0" y="261.2"/><use xlink:href="#bp" x="1300.5" y="270.5"/><use xlink:href="#bp" x="1299.0" y="260.2"/><use xlink:href="#bp" x="1297.5" y="268.9"/><use xlink:href="#bp" x="1296.0" y="258.9"/><use xlink:href="#bp" x="1294.5" y="267.9"/><use xlink:href="#bp" x="1293.0" y="257.0"/><use xlink:href="#bp" x="1291.5" y="267.4"/><use xlink:href="#bp" x="1290.0" y="255.5"/><use xlink:href="#bp" x="1288.5" y="267.5"/><use xlink:href="#bp" x="1287.0" y="254.1"/><use xlink:href="#bp" x="1285.5" y="268.1"/><use xlink:href="#bp" x="1284.0" y="250.2"/><use xlink:href="#bp" x="1282.5" y="269.3"/><use xlink:href="#bp" x="1281.0" y="250.5"/><use xlink:href="#bp" x="1279.5" y="270.9"/><use xlink:href="#bp" x="1278.0" y="249.1"/><use xlink:href="#bp" x="1276.5" y="272.4"/><use xlink:href="#bp" x="1275.0" y="251.7"/><use xlink:href="#bp" x="1273.5" y="273.8"/><use xlink:href="#bp" x="1272.0" y="254.5"/><use xlink:href="#bp" x="1270.5" y="275.3"/><use xlink:href="#bp" x="1269.0" y="256.5"/><use xlink:href="#bp" x="1267.5" y="274.8"/><use xlink:href="#bp" x="1266.0" y="259.9"/><use xlink:href="#bp" x="1264.5" y="275.1"/><use xlink:href="#bp" x="1263.0" y="262.7"/><use xlink:href="#bp" x="1261.5" y="275.9"/><use xlink:href="#bp" x="1260.0" y="265.6"/><use xlink:href="#bp" x="1258.5" y="276.5"/><use xlink:href="#bp" x="1257.0" y="269.1"/><use xlink:href="#bp" x="1255.5" y="276.5"/><use xlink:href="#bp" x="1254.0" y="271.7"/><use xlink:href="#bp" x="1252.5" y="276.5"/><use xlink:href="#bp" x="1251.0" y="273.4"/><use xlink:href="#bp" x="1249.5" y="277.1"/><use xlink:href="#bp" x="1248.0" y="275.2"/><use xlink:href="#bp" x="1246.5" y="278.2"/><use xlink:href="#bp" x="1245.0" y="277.4"/><use xlink:href="#bp" x="1243.5" y="280.1"/><use xlink:href="#bp" x="1242.0" y="278.3"/><use xlink:href="#bp" x="1240.5" y="283.1"/><use xlink:href="#bp" x="1239.0" y="281.1"/><use xlink:href="#bp" x="1237.5" y="287.5"/><use xlink:href="#bp" x="1236.0" y="284.3"/><use xlink:href="#bp" x="1234.5" y="294.1"/><use xlink:href="#bp" x="1233.0" y="284.2"/><use xlink:href="#bp" x="1231.5" y="300.0"/><use xlink:href="#bp" x="1230.0" y="294.0"/><use xlink:href="#bp" x="1228.5" y="306.0"/><use xlink:href="#bp" x="1227.0" y="307.1"/><use xlink:href="#bp" x="1225.5" y="311.9"/><use xlink:href="#bp" x="1224.0" y="320.2"/><use xlink:href="#bp" x="1222.5" y="319.0"/><use xlink:href="#bp" x="1221.0" y="331.5"/><use xlink:href="#bp" x="1219.5" y="331.4"/><use xlink:href="#bp" x="1218.0" y="337.4"/><use xlink:href="#bp" x="1216.5" y="344.7"/><use xlink:href="#bp" x="1215.0" y="340.9"/><use xlink:href="#bp" x="1213.5" y="352.1"/><use xlink:href="#bp" x="1212.0" y="343.1"/><use xlink:href="#bp" x="1210.5" y="355.4"/><use xlink:href="#bp" x="1209.0" y="344.5"/><use xlink:href="#bp" x="1207.5" y="360.9"/><use xlink:href="#bp" x="1206.0" y="345.3"/><use xlink:href="#bp" x="1204.5" y="358.6"/><use xlink:href="#bp" x="1203.0" y="345.5"/><use xlink:href="#bp" x="1201.5" y="359.3"/><use xlink:href="#bp" x="1200.0" y="345.1"/><use xlink:href="#bp" x="1198.5" y="361.8"/><use xlink:href="#bp" x="1197.0" y="344.5"/><use xlink:href="#bp" x="1195.5" y="361.5"/><use xlink:href="#bp" x="1194.0" y="344.7"/><use xlink:href="#bp" x="1192.5" y="360.0"/><use xlink:href="#bp" x="1191.0" y="345.2"/><use xlink:href="#bp" x="1189.5" y="360.0"/><use xlink:href="#bp" x="1188.0" y="345.3"/><use xlink:href="#bp" x="1186.5" y="361.5"/><use xlink:href="#bp" x="1185.0" y="344.9"/><use xlink:href="#bp" x="1183.5" y="356.9"/><use xlink:href="#bp" x="1182.0" y="344.0"/><use xlink:href="#bp" x="1180.5" y="355.1"/><use xlink:href="#bp" x="1179.0" y="342.4"/><use xlink:href="#bp" x="1177.5" y="352.4"/><use xlink:href="#bp" x="1176.0" y="340.1"/><use xlink:href="#bp" x="1174.5" y="350.1"/><use xlink:href="#bp" x="1173.0" y="337.1"/><use xlink:href="#bp" x="1171.5" y="348.1"/><use xlink:href="#bp" x="1170.0" y="333.5"/><use xlink:href="#bp" x="1168.5" y="346.1"/><use xlink:href="#bp" x="1167.0" y="330.5"/><use xlink:href="#bp" x="1165.5" y="343.9"/><use xlink:href="#bp" x="1164.0" y="331.3"/><use xlink:href="#bp" x="1162.5" y="341.3"/><use xlink:href="#bp" x="1161.0" y="332.5"/><use xlink:href="#bp" x="1159.5" y="339.4"/><use xlink:href="#bp" x="1158.0" y="333.7"/><use xlink:href="#bp" x="1156.5" y="338.1"/><use xlink:href="#bp" x="1155.0" y="334.7"/><use xlink:href="#bp" x="1153.5" y="337.5"/><use xlink:href="#bp" x="1152.0" y="335.3"/><use xlink:href="#bp" x="1150.5" y="337.2"/><use xlink:href="#bp" x="1149.0" y="335.5"/><use xlink:href="#bp" x="1147.5" y="336.7"/><use xlink:href="#bp" x="1146.0" y="335.1"/><use xlink:href="#bp" x="1144.5" y="335.9"/><use xlink:href="#bp" x="1143.0" y="334.3"/><use xlink:href="#bp" x="1141.5" y="335.4"/><use xlink:href="#bp" x="1140.0" y="332.8"/><use xlink:href="#bp" x="1138.5" y="335.0"/><use xlink:href="#bp" x="1137.0" y="330.8"/><use xlink:href="#bp" x="1135.5" y="334.1"/><use xlink:href="#bp" x="1134.0" y="328.2"/><use xlink:href="#bp" x="1132.5" y="333.2"/><use xlink:href="#bp" x="1131.0" y="324.5"/><use xlink:href="#bp" x="1129.5" y="332.6"/><use xlink:href="#bp" x="1128.0" y="322.8"/><use xlink:href="#bp" x="1126.5" y="332.7"/><use xlink:href="#bp" x="1125.0" y="322.7"/><use xlink:href="#bp" x="1123.5" y="333.3"/><use xlink:href="#bp" x="1122.0" y="320.0"/><use xlink:href="#bp" x="1120.5" y="334.4"/><use xlink:href="#bp" x="1119.0" y="324.1"/><use xlink:href="#bp" x="1117.5" y="336.2"/><use xlink:href="#bp" x="1116.0" y="325.3"/><use xlink:href="#bp" x="1114.5" y="338.4"/><use xlink:href="#bp" x="1113.0" y="325.4"/><use xlink:href="#bp" x="1111.5" y="339.9"/><use xlink:href="#bp" x="1110.0" y="326.9"/><use xlink:href="#bp" x="1108.5" y="341.0"/><use xlink:href="#bp" x="1107.0" y="328.6"/><use xlink:href="#bp" x="1105.5" y="342.9"/><use xlink:href="#bp" x="1104.0" y="329.8"/><use xlink:href="#bp" x="1102.5" y="345.1"/><use xlink:href="#bp" x="1101.0" y="331.2"/><use xlink:href="#bp" x="1099.5" y="342.9"/><use xlink:href="#bp" x="1098.0" y="332.7"/><use xlink:href="#bp" x="1096.5" y="342.8"/><use xlink:href="#bp" x="1095.0" y="333.8"/><use xlink:href="#bp" x="1093.5" y="343.6"/><use xlink:href="#bp" x="1092.0" y="335.2"/><use xlink:href="#bp" x="1090.5" y="343.5"/><use xlink:href="#bp" x="1089.0" y="337.2"/><use xlink:href="#bp" x="1087.5" y="342.8"/><use xlink:href="#bp" x="1086.0" y="338.6"/><use xlink:href="#bp" x="1084.5" y="342.8"/><use xlink:href="#bp" x="1083.0" y="339.4"/><use xlink:href="#bp" x="1081.5" y="343.3"/><use xlink:href="#bp" x="1080.0" y="339.5"/><use xlink:href="#bp" x="1078.5" y="343.8"/><use xlink:href="#bp" x="1077.0" y="338.9"/><use xlink:href="#bp" x="1075.5" y="343.7"/><use xlink:href="#bp" x="1074.0" y="339.0"/><use xlink:href="#bp" x="1072.5" y="343.7"/><use xlink:href="#bp" x="1071.0" y="340.1"/><use xlink:href="#bp" x="1069.5" y="344.2"/><use xlink:href="#bp" x="1068.0" y="340.1"/><use xlink:href="#bp" x="1066.5" y="344.8"/><use xlink:href="#bp" x="1065.0" y="338.0"/><use xlink:href="#bp" x="1063.5" y="343.3"/><use xlink:href="#bp" x="1062.0" y="342.2"/><use xlink:href="#bp" x="1060.5" y="342.5"/><use xlink:href="#bp" x="1059.0" y="345.1"/><use xlink:href="#bp" x="1057.5" y="342.5"/><use xlink:href="#bp" x="1056.0" y="347.0"/><use xlink:href="#bp" x="1054.5" y="343.6"/><use xlink:href="#bp" x="1053.0" y="347.9"/><use xlink:href="#bp" x="1051.5" y="348.3"/><use xlink:href="#bp" x="1050.0" y="345.3"/><use xlink:href="#bp" x="1048.5" y="337.2"/><use xlink:href="#bp" x="1047.3" y="346.0"/><use xlink:href="#bp" x="1044.8" y="357.1"/><use xlink:href="#bp" x="1041.0" y="364.5"/><use xlink:href="#bp" x="1036.9" y="369.4"/><use xlink:href="#bp" x="1032.8" y="374.4"/><use xlink:href="#bp" x="1028.7" y="379.4"/><use xlink:href="#bp" x="1025.0" y="391.8"/><use xlink:href="#bp" x="1021.3" y="405.4"/><use xlink:href="#bp" x="1017.5" y="419.1"/><use xlink:href="#bp" x="1013.7" y="427.5"/><use xlink:href="#bp" x="1010.0" y="436.0"/><use xlink:href="#bp" x="1006.4" y="445.0"/><use xlink:href="#bp" x="1002.7" y="453.8"/><use xlink:href="#bp" x="999.0" y="466.2"/><use xlink:href="#bp" x="995.2" y="478.6"/><use xlink:href="#bp" x="992.7" y="489.7"/><use xlink:href="#bp" x="989.0" y="503.4"/><use xlink:href="#bp" x="986.5" y="515.8"/><use xlink:href="#bp" x="984.0" y="528.2"/><use xlink:href="#bp" x="980.3" y="543.1"/><use xlink:href="#bp" x="976.6" y="555.5"/><use xlink:href="#bp" x="972.9" y="567.9"/><use xlink:href="#bp" x="970.4" y="581.5"/><use xlink:href="#bp" x="966.7" y="596.4"/><use xlink:href="#bp" x="964.2" y="612.5"/><use xlink:href="#bp" x="960.5" y="629.9"/><use xlink:href="#bp" x="958.0" y="643.5"/><use xlink:href="#bp" x="955.5" y="654.7"/><use xlink:href="#bp" x="951.8" y="669.5"/><use xlink:href="#bp" x="949.4" y="686.9"/><use xlink:href="#bp" x="946.9" y="705.5"/><use xlink:href="#bp" x="943.1" y="726.6"/><use xlink:href="#bp" x="940.7" y="746.4"/><use xlink:href="#bp" x="937.1" y="768.0"/><use xlink:href="#bp" x="934.1" y="790.4"/><use xlink:href="#bp" x="931.8" y="817.6"/><use xlink:href="#bp" x="928.6" y="848.3"/><use xlink:href="#bp" x="925.8" y="879.7"/><use xlink:href="#bp" x="922.6" y="909.4"/><use xlink:href="#bp" x="919.8" y="935.2"/><use xlink:href="#bp" x="916.9" y="957.5"/><use xlink:href="#bp" x="913.9" y="979.3"/><use xlink:href="#bp" x="910.9" y="1003.1"/><use xlink:href="#bp" x="907.9" y="1031.9"/><use xlink:href="#bp" x="904.8" y="1067.6"/><use xlink:href="#bp" x="901.8" y="1106.3"/><use xlink:href="#bp" x="899.3" y="1146.8"/><use xlink:href="#bp" x="896.4" y="1182.3"/><use xlink:href="#bp" x="892.8" y="1213.9"/><use xlink:href="#bp" x="888.4" y="1245.0"/><use xlink:href="#bp" x="885.5" y="1279.9"/><use xlink:href="#bp" x="882.9" y="1320.3"/><use xlink:href="#bp" x="879.5" y="1359.4"/><use xlink:href="#bp" x="876.5" y="1396.0"/><use xlink:href="#bp" x="873.5" y="1428.8"/><use xlink:href="#bp" x="871.5" y="1462.5"/><use xlink:href="#bp" x="868.1" y="1496.3"/><use xlink:href="#bp" x="865.6" y="1534.8"/><use xlink:href="#bp" x="862.2" y="1569.5"/><use xlink:href="#bp" x="859.6" y="1601.8"/><use xlink:href="#bp" x="858.0" y="1613.0"/><use xlink:href="#bp" x="856.2" y="1624.0"/><use xlink:href="#bp" x="855.3" y="1630.0"/><use xlink:href="#bp" x="852.8" y="1641.0"/><use xlink:href="#bp" x="850.3" y="1645.0"/><use xlink:href="#bp" x="847.8" y="1653.0"/><use xlink:href="#bp" x="845.3" y="1666.0"/><use xlink:href="#bp" x="841.6" y="1680.0"/><use xlink:href="#bp" x="839.1" y="1693.0"/><use xlink:href="#bp" x="836.0" y="1707.0"/><use xlink:href="#bp" x="833.5" y="1713.0"/><use xlink:href="#bp" x="830.5" y="1718.0"/><use xlink:href="#bp" x="826.7" y="1729.0"/><use xlink:href="#bp" x="823.0" y="1743.0"/><use xlink:href="#bp" x="818.0" y="1753.0"/><use xlink:href="#bp" x="813.0" y="1765.0"/><use xlink:href="#bp" x="809.0" y="1777.0"/><use xlink:href="#bp" x="805.0" y="1782.0"/><use xlink:href="#bp" x="802.0" y="1771.6"/><use xlink:href="#bp" x="799.5" y="1785.0"/><use xlink:href="#bp" x="796.4" y="1801.0"/><use xlink:href="#bp" x="787.5" y="1834.6"/><use xlink:href="#bp" x="786.0" y="1817.6"/><use xlink:href="#bp" x="784.5" y="1831.6"/><use xlink:href="#bp" x="783.0" y="1822.0"/><use xlink:href="#bp" x="781.5" y="1831.1"/><use xlink:href="#bp" x="780.0" y="1821.7"/><use xlink:href="#bp" x="778.5" y="1831.6"/><use xlink:href="#bp" x="777.0" y="1820.6"/><use xlink:href="#bp" x="775.5" y="1832.9"/><use xlink:href="#bp" x="774.0" y="1825.7"/><use xlink:href="#bp" x="772.5" y="1833.2"/><use xlink:href="#bp" x="771.0" y="1828.1"/><use xlink:href="#bp" x="769.5" y="1832.7"/><use xlink:href="#bp" x="768.0" y="1829.7"/><use xlink:href="#bp" x="766.5" y="1832.9"/><use xlink:href="#bp" x="765.0" y="1831.5"/><use xlink:href="#bp" x="763.5" y="1833.8"/><use xlink:href="#bp" x="762.0" y="1833.1"/><use xlink:href="#bp" x="760.5" y="1835.4"/><use xlink:href="#bp" x="759.0" y="1834.8"/><use xlink:href="#bp" x="757.5" y="1837.9"/><use xlink:href="#bp" x="756.0" y="1835.7"/><use xlink:href="#bp" x="754.5" y="1841.2"/><use xlink:href="#bp" x="753.0" y="1837.5"/><use xlink:href="#bp" x="751.5" y="1843.6"/><use xlink:href="#bp" x="750.0" y="1840.4"/><use xlink:href="#bp" x="748.5" y="1845.9"/><use xlink:href="#bp" x="747.0" y="1842.7"/><use xlink:href="#bp" x="745.5" y="1849.6"/><use xlink:href="#bp" x="744.0" y="1845.8"/><use xlink:href="#bp" x="742.5" y="1857.0"/><use xlink:href="#bp" x="741.0" y="1848.1"/><use xlink:href="#bp" x="739.5" y="1859.2"/><use xlink:href="#bp" x="738.0" y="1849.6"/><use xlink:href="#bp" x="736.5" y="1857.2"/><use xlink:href="#bp" x="735.0" y="1850.6"/><use xlink:href="#bp" x="733.5" y="1857.8"/><use xlink:href="#bp" x="732.0" y="1851.0"/><use xlink:href="#bp" x="730.5" y="1859.3"/><use xlink:href="#bp" x="729.0" y="1850.8"/><use xlink:href="#bp" x="727.5" y="1858.0"/><use xlink:href="#bp" x="726.0" y="1850.2"/><use xlink:href="#bp" x="724.5" y="1857.9"/><use xlink:href="#bp" x="723.0" y="1849.0"/><use xlink:href="#bp" x="721.5" y="1860.2"/><use xlink:href="#bp" x="720.0" y="1847.2"/><use xlink:href="#bp" x="718.5" y="1858.2"/><use xlink:href="#bp" x="717.0" y="1844.9"/><use xlink:href="#bp" x="715.5" y="1854.9"/><use xlink:href="#bp" x="714.0" y="1843.3"/><use xlink:href="#bp" x="712.5" y="1853.1"/><use xlink:href="#bp" x="711.0" y="1841.4"/><use xlink:href="#bp" x="709.5" y="1852.1"/><use xlink:href="#bp" x="708.0" y="1839.7"/><use xlink:href="#bp" x="706.5" y="1851.7"/><use xlink:href="#bp" x="705.0" y="1838.7"/><use xlink:href="#bp" x="703.5" y="1851.8"/><use xlink:href="#bp" x="702.0" y="1836.8"/><use xlink:href="#bp" x="700.5" y="1852.4"/><use xlink:href="#bp" x="699.0" y="1839.3"/><use xlink:href="#bp" x="697.5" y="1853.5"/><use xlink:href="#bp" x="696.0" y="1841.1"/><use xlink:href="#bp" x="694.5" y="1855.2"/><use xlink:href="#bp" x="693.0" y="1842.9"/><use xlink:href="#bp" x="691.5" y="1857.4"/><use xlink:href="#bp" x="690.0" y="1845.5"/><use xlink:href="#bp" x="688.5" y="1859.7"/><use xlink:href="#bp" x="687.0" y="1847.6"/><use xlink:href="#bp" x="685.5" y="1861.0"/><use xlink:href="#bp" x="684.0" y="1849.0"/><use xlink:href="#bp" x="682.5" y="1861.8"/><use xlink:href="#bp" x="681.0" y="1849.9"/><use xlink:href="#bp" x="679.5" y="1865.1"/><use xlink:href="#bp" x="678.0" y="1850.2"/><use xlink:href="#bp" x="676.5" y="1865.4"/><use xlink:href="#bp" x="675.0" y="1850.0"/><use xlink:href="#bp" x="673.5" y="1862.5"/><use xlink:href="#bp" x="672.0" y="1849.2"/><use xlink:href="#bp" x="670.5" y="1860.2"/><use xlink:href="#bp" x="669.0" y="1847.9"/><use xlink:href="#bp" x="667.5" y="1856.9"/><use xlink:href="#bp" x="666.0" y="1846.4"/><use xlink:href="#bp" x="664.5" y="1853.7"/><use xlink:href="#bp" x="663.0" y="1845.3"/><use xlink:href="#bp" x="661.5" y="1850.7"/><use xlink:href="#bp" x="660.0" y="1844.2"/><use xlink:href="#bp" x="658.5" y="1848.5"/><use xlink:href="#bp" x="657.0" y="1843.0"/><use xlink:href="#bp" x="655.5" y="1847.2"/><use xlink:href="#bp" x="654.0" y="1842.2"/><use xlink:href="#bp" x="652.5" y="1846.6"/><use xlink:href="#bp" x="651.0" y="1840.8"/><use xlink:href="#bp" x="649.5" y="1846.3"/><use xlink:href="#bp" x="648.0" y="1838.7"/><use xlink:href="#bp" x="646.5" y="1846.0"/><use xlink:href="#bp" x="645.0" y="1835.7"/><use xlink:href="#bp" x="643.5" y="1845.6"/><use xlink:href="#bp" x="642.0" y="1833.0"/><use xlink:href="#bp" x="640.5" y="1844.9"/><use xlink:href="#bp" x="639.0" y="1830.1"/><use xlink:href="#bp" x="637.5" y="1844.0"/><use xlink:href="#bp" x="636.0" y="1827.6"/><use xlink:href="#bp" x="634.5" y="1843.4"/><use xlink:href="#bp" x="633.0" y="1827.0"/><use xlink:href="#bp" x="631.5" y="1843.4"/><use xlink:href="#bp" x="630.0" y="1822.5"/><use xlink:href="#bp" x="628.5" y="1843.9"/><use xlink:href="#bp" x="627.0" y="1826.2"/><use xlink:href="#bp" x="625.5" y="1844.9"/><use xlink:href="#bp" x="624.0" y="1830.5"/><use xlink:href="#bp" x="622.5" y="1846.7"/><use xlink:href="#bp" x="621.0" y="1834.6"/><use xlink:href="#bp" x="619.5" y="1849.4"/><use xlink:href="#bp" x="618.0" y="1837.8"/><use xlink:href="#bp" x="616.5" y="1853.3"/><use xlink:href="#bp" x="615.0" y="1840.1"/><use xlink:href="#bp" x="613.5" y="1857.5"/><use xlink:href="#bp" x="612.0" y="1841.6"/><use xlink:href="#bp" x="610.5" y="1864.4"/><use xlink:href="#bp" x="609.0" y="1842.5"/><use xlink:href="#bp" x="607.5" y="1858.3"/><use xlink:href="#bp" x="606.0" y="1843.0"/><use xlink:href="#bp" x="604.5" y="1853.7"/><use xlink:href="#bp" x="603.0" y="1842.9"/><use xlink:href="#bp" x="601.5" y="1845.7"/><use xlink:href="#bp" x="600.0" y="1842.3"/><use xlink:href="#bp" x="598.5" y="1841.7"/><use xlink:href="#bp" x="597.0" y="1841.2"/><use xlink:href="#bp" x="595.5" y="1839.0"/><use xlink:href="#bp" x="594.0" y="1839.5"/><use xlink:href="#bp" x="592.5" y="1835.9"/><use xlink:href="#bp" x="591.0" y="1837.0"/><use xlink:href="#bp" x="589.5" y="1833.2"/><use xlink:href="#bp" x="588.0" y="1833.4"/><use xlink:href="#bp" x="586.5" y="1829.7"/><use xlink:href="#bp" x="585.0" y="1829.3"/><use xlink:href="#bp" x="583.5" y="1826.7"/><use xlink:href="#bp" x="582.0" y="1825.9"/><use xlink:href="#bp" x="580.5" y="1824.6"/><use xlink:href="#bp" x="579.0" y="1822.3"/><use xlink:href="#bp" x="577.5" y="1823.2"/><use xlink:href="#bp" x="576.0" y="1818.6"/><use xlink:href="#bp" x="574.5" y="1822.4"/><use xlink:href="#bp" x="573.0" y="1816.2"/><use xlink:href="#bp" x="571.5" y="1822.0"/><use xlink:href="#bp" x="570.0" y="1810.9"/><use xlink:href="#bp" x="568.5" y="1822.2"/><use xlink:href="#bp" x="567.0" y="1813.3"/><use xlink:href="#bp" x="565.5" y="1822.9"/><use xlink:href="#bp" x="564.0" y="1815.0"/><use xlink:href="#bp" x="562.5" y="1824.1"/><use xlink:href="#bp" x="561.0" y="1819.8"/><use xlink:href="#bp" x="559.5" y="1826.0"/><use xlink:href="#bp" x="558.0" y="1822.6"/><use xlink:href="#bp" x="556.5" y="1828.7"/><use xlink:href="#bp" x="555.0" y="1826.6"/><use xlink:href="#bp" x="553.5" y="1831.0"/><use xlink:href="#bp" x="552.0" y="1830.9"/><use xlink:href="#bp" x="550.5" y="1832.6"/><use xlink:href="#bp" x="549.0" y="1835.0"/><use xlink:href="#bp" x="547.5" y="1835.2"/><use xlink:href="#bp" x="546.0" y="1839.3"/><use xlink:href="#bp" x="544.5" y="1839.3"/><use xlink:href="#bp" x="543.0" y="1843.8"/><use xlink:href="#bp" x="541.5" y="1844.6"/><use xlink:href="#bp" x="540.0" y="1846.9"/><use xlink:href="#bp" x="538.5" y="1850.7"/><use xlink:href="#bp" x="537.0" y="1848.9"/><use xlink:href="#bp" x="535.5" y="1853.7"/><use xlink:href="#bp" x="534.0" y="1850.1"/><use xlink:href="#bp" x="532.5" y="1853.3"/><use xlink:href="#bp" x="531.0" y="1850.7"/><use xlink:href="#bp" x="529.5" y="1853.8"/><use xlink:href="#bp" x="528.0" y="1851.0"/><use xlink:href="#bp" x="526.5" y="1854.0"/><use xlink:href="#bp" x="525.0" y="1851.4"/><use xlink:href="#bp" x="523.5" y="1854.4"/><use xlink:href="#bp" x="522.0" y="1852.3"/><use xlink:href="#bp" x="520.5" y="1854.8"/><use xlink:href="#bp" x="519.0" y="1853.0"/><use xlink:href="#bp" x="517.5" y="1855.2"/><use xlink:href="#bp" x="516.0" y="1853.4"/><use xlink:href="#bp" x="514.5" y="1855.6"/><use xlink:href="#bp" x="513.0" y="1853.5"/><use xlink:href="#bp" x="511.5" y="1856.1"/><use xlink:href="#bp" x="510.0" y="1853.5"/><use xlink:href="#bp" x="508.5" y="1856.4"/><use xlink:href="#bp" x="507.0" y="1854.2"/><use xlink:href="#bp" x="505.5" y="1856.6"/><use xlink:href="#bp" x="504.0" y="1854.8"/><use xlink:href="#bp" x="502.5" y="1857.1"/><use xlink:href="#bp" x="501.0" y="1855.0"/><use xlink:href="#bp" x="499.5" y="1858.3"/><use xlink:href="#bp" x="498.0" y="1854.6"/><use xlink:href="#bp" x="496.5" y="1859.8"/><use xlink:href="#bp" x="495.0" y="1853.8"/><use xlink:href="#bp" x="493.5" y="1859.4"/><use xlink:href="#bp" x="492.0" y="1852.3"/><use xlink:href="#bp" x="490.5" y="1860.0"/><use xlink:href="#bp" x="489.0" y="1850.0"/><use xlink:href="#bp" x="487.5" y="1862.9"/><use xlink:href="#bp" x="486.0" y="1846.8"/><use xlink:href="#bp" x="484.5" y="1861.5"/><use xlink:href="#bp" x="483.0" y="1842.7"/><use xlink:href="#bp" x="481.5" y="1858.4"/><use xlink:href="#bp" x="480.0" y="1839.5"/><use xlink:href="#bp" x="478.5" y="1856.8"/><use xlink:href="#bp" x="477.0" y="1835.9"/><use xlink:href="#bp" x="475.5" y="1856.0"/><use xlink:href="#bp" x="474.0" y="1831.7"/><use xlink:href="#bp" x="472.5" y="1855.8"/><use xlink:href="#bp" x="471.0" y="1824.2"/><use xlink:href="#bp" x="469.5" y="1856.1"/><use xlink:href="#bp" x="468.0" y="1824.4"/><use xlink:href="#bp" x="466.5" y="1856.9"/><use xlink:href="#bp" x="465.0" y="1831.3"/><use xlink:href="#bp" x="463.5" y="1857.7"/><use xlink:href="#bp" x="462.0" y="1834.5"/><use xlink:href="#bp" x="460.5" y="1857.7"/><use xlink:href="#bp" x="459.0" y="1837.4"/><use xlink:href="#bp" x="457.5" y="1858.0"/><use xlink:href="#bp" x="456.0" y="1839.7"/><use xlink:href="#bp" x="454.5" y="1858.8"/><use xlink:href="#bp" x="453.0" y="1842.6"/><use xlink:href="#bp" x="451.5" y="1860.4"/><use xlink:href="#bp" x="450.0" y="1845.5"/><use xlink:href="#bp" x="448.5" y="1862.8"/><use xlink:href="#bp" x="447.0" y="1847.6"/><use xlink:href="#bp" x="445.5" y="1866.4"/><use xlink:href="#bp" x="444.0" y="1849.1"/><use xlink:href="#bp" x="442.5" y="1871.3"/><use xlink:href="#bp" x="441.0" y="1849.9"/><use xlink:href="#bp" x="439.5" y="1876.1"/><use xlink:href="#bp" x="438.0" y="1850.2"/><use xlink:href="#bp" x="436.5" y="1879.9"/><use xlink:href="#bp" x="435.0" y="1850.1"/><use xlink:href="#bp" x="433.5" y="1875.9"/><use xlink:href="#bp" x="432.0" y="1849.4"/><use xlink:href="#bp" x="430.5" y="1872.7"/><use xlink:href="#bp" x="429.0" y="1848.2"/><use xlink:href="#bp" x="427.5" y="1869.1"/><use xlink:href="#bp" x="426.0" y="1846.4"/><use xlink:href="#bp" x="424.5" y="1864.6"/><use xlink:href="#bp" x="423.0" y="1843.9"/><use xlink:href="#bp" x="421.5" y="1861.3"/><use xlink:href="#bp" x="420.0" y="1841.3"/><use xlink:href="#bp" x="418.5" y="1859.0"/><use xlink:href="#bp" x="417.0" y="1839.1"/><use xlink:href="#bp" x="415.5" y="1857.4"/><use xlink:href="#bp" x="414.0" y="1838.4"/><use xlink:href="#bp" x="412.5" y="1856.4"/><use xlink:href="#bp" x="411.0" y="1840.8"/><use xlink:href="#bp" x="409.5" y="1855.9"/><use xlink:href="#bp" x="408.0" y="1843.6"/><use xlink:href="#bp" x="406.5" y="1855.9"/><use xlink:href="#bp" x="405.0" y="1845.3"/><use xlink:href="#bp" x="403.5" y="1856.4"/><use xlink:href="#bp" x="402.0" y="1849.2"/><use xlink:href="#bp" x="400.5" y="1857.7"/><use xlink:href="#bp" x="399.0" y="1853.9"/><use xlink:href="#bp" x="397.5" y="1862.1"/><use xlink:href="#bp" x="396.0" y="1854.9"/></g>
</g>
<line x1="663" y1="726.9" x2="761" y2="797.6" stroke="#fa3c3c" stroke-width="4.8"/>
<line x1="966.8" y1="888.2" x2="1054.3" y2="947.5" stroke="#0a69b1" stroke-width="5"/>
<circle cx="1001.2" cy="1609.2" r="18.4" fill="#fff" stroke="#fa3c3c" stroke-width="4.5"/>
<use xlink:href="#bp" x="1001.3" y="1777.7"/>
<rect x="361.30" y="2009.90" width="1482.60" height="7.40" fill="#000000"/>
<rect x="361.30" y="2009.90" width="7.40" height="42.30" fill="#000000"/>
<rect x="1098.90" y="2009.90" width="7.40" height="42.30" fill="#000000"/>
<rect x="1836.50" y="2009.90" width="7.40" height="42.30" fill="#000000"/>
<rect x="730.10" y="2009.90" width="7.40" height="22.50" fill="#000000"/>
<rect x="1467.70" y="2009.90" width="7.40" height="22.50" fill="#000000"/>
<rect x="361.30" y="32.00" width="7.40" height="1985.30" fill="#0a69b1"/>
<rect x="326.40" y="271.30" width="42.30" height="7.40" fill="#0a69b1"/>
<rect x="326.40" y="747.30" width="42.30" height="7.40" fill="#0a69b1"/>
<rect x="326.40" y="1223.30" width="42.30" height="7.40" fill="#0a69b1"/>
<rect x="326.40" y="1699.30" width="42.30" height="7.40" fill="#0a69b1"/>
<rect x="346.20" y="33.30" width="22.50" height="7.40" fill="#0a69b1"/>
<rect x="346.20" y="509.30" width="22.50" height="7.40" fill="#0a69b1"/>
<rect x="346.20" y="985.30" width="22.50" height="7.40" fill="#0a69b1"/>
<rect x="346.20" y="1461.30" width="22.50" height="7.40" fill="#0a69b1"/>
<rect x="346.20" y="1937.30" width="22.50" height="7.40" fill="#0a69b1"/>
<rect x="361.30" y="32.00" width="1482.60" height="7.40" fill="#000000"/>
<rect x="361.30" y="32.00" width="7.40" height="42.30" fill="#000000"/>
<rect x="1098.90" y="32.00" width="7.40" height="42.30" fill="#000000"/>
<rect x="1836.50" y="32.00" width="7.40" height="42.30" fill="#000000"/>
<rect x="730.10" y="32.00" width="7.40" height="22.50" fill="#000000"/>
<rect x="1467.70" y="32.00" width="7.40" height="22.50" fill="#000000"/>
<rect x="1836.50" y="32.00" width="7.40" height="1985.30" fill="#d10808"/>
<rect x="1801.60" y="1857.00" width="42.30" height="7.40" fill="#d10808"/>
<rect x="1801.60" y="1248.66" width="42.30" height="7.40" fill="#d10808"/>
<rect x="1801.60" y="640.32" width="42.30" height="7.40" fill="#d10808"/>
<rect x="1801.60" y="31.98" width="42.30" height="7.40" fill="#d10808"/>
<rect x="1821.40" y="1552.83" width="22.50" height="7.40" fill="#d10808"/>
<rect x="1821.40" y="944.49" width="22.50" height="7.40" fill="#d10808"/>
<rect x="1821.40" y="336.15" width="22.50" height="7.40" fill="#d10808"/>
<rect x="1836.50" y="2017.30" width="7.40" height="34.90" fill="#000000"/>
<rect x="361.30" y="2017.30" width="7.40" height="34.90" fill="#000000"/>
<text transform="matrix(0.82657 0 0 0.85695 253.89 299.34)" font-family="'Liberation Sans', Arial, sans-serif" font-size="100" font-style="normal" fill="#0a69b1">0</text>
<text transform="matrix(0.84719 0 0 0.86118 177.43 775.34)" font-family="'Liberation Sans', Arial, sans-serif" font-size="100" font-style="normal" fill="#0a69b1" clip-path="url(#c1_1)">-10</text>
<text transform="matrix(0.84498 0 0 0.86056 177.74 1251.84)" font-family="'Liberation Sans', Arial, sans-serif" font-size="100" font-style="normal" fill="#0a69b1">-20</text>
<text transform="matrix(0.84719 0 0 0.85070 177.43 1727.75)" font-family="'Liberation Sans', Arial, sans-serif" font-size="100" font-style="normal" fill="#0a69b1">-30</text>
<text transform="matrix(0.84252 0 0 0.84648 1880.79 60.65)" font-family="'Liberation Sans', Arial, sans-serif" font-size="100" font-style="normal" fill="#d10808">60</text>
<text transform="matrix(0.84294 0 0 0.85775 1881.35 668.44)" font-family="'Liberation Sans', Arial, sans-serif" font-size="100" font-style="normal" fill="#d10808">40</text>
<text transform="matrix(0.84194 0 0 0.86620 1880.86 1277.53)" font-family="'Liberation Sans', Arial, sans-serif" font-size="100" font-style="normal" fill="#d10808">20</text>
<text transform="matrix(0.82448 0 0 0.86259 1882.60 1886.24)" font-family="'Liberation Sans', Arial, sans-serif" font-size="100" font-style="normal" fill="#d10808">0</text>
<text transform="matrix(0.85220 0 0 0.85070 293.91 2143.45)" font-family="'Liberation Sans', Arial, sans-serif" font-size="100" font-style="normal" fill="#000000">265</text>
<text transform="matrix(0.84559 0 0 0.85832 1031.04 2143.58)" font-family="'Liberation Sans', Arial, sans-serif" font-size="100" font-style="normal" fill="#000000">270</text>
<text transform="matrix(0.85537 0 0 0.84225 1769.09 2142.96)" font-family="'Liberation Sans', Arial, sans-serif" font-size="100" font-style="normal" fill="#000000">275</text>
<text transform="matrix(0.93657 0 0 0.93784 497.68 210.06)" font-family="'Liberation Sans', Arial, sans-serif" font-size="100" font-style="normal" fill="#3c3c3c" clip-path="url(#c1_11)">~16 kbar</text>
<text transform="matrix(0.83164 0 0 0.85211 386.61 707.85)" font-family="'Liberation Sans', Arial, sans-serif" font-size="100" font-style="normal" fill="#fa3c3c" clip-path="url(#c1_12)">ΔT ~ 1.3 K</text>
<text transform="matrix(0.82802 0 0 0.83803 1054.72 990.66)" font-family="'Liberation Sans', Arial, sans-serif" font-size="100" font-style="normal" fill="#0a69b1" clip-path="url(#c1_13)">ΔT ~ 1.6 K</text>
<text transform="matrix(1.02311 0 0 1.06438 992.01 2302.30)" font-family="'Liberation Sans', Arial, sans-serif" font-size="100" font-style="normal" fill="#000000"><tspan font-style="italic">T</tspan> (K)</text>
<text transform="matrix(0 -1.03532 1.05753 0 75.00 1170.76)" font-family="'Liberation Sans', Arial, sans-serif" font-size="100" font-style="normal" fill="#0b4f8a">χ' (nV)</text>
<text transform="matrix(0 -1.01552 1.05205 0 2100.00 1190.14)" font-family="'Liberation Sans', Arial, sans-serif" font-size="100" font-style="normal" fill="#d10808"><tspan font-style="italic">R</tspan> (m<tspan font-family="'Liberation Serif', 'Times New Roman', serif" font-size="109">Ω</tspan>)</text>
<text transform="matrix(0.97854 0 0 0.97564 1117.18 1644.90)" font-family="'Liberation Sans', Arial, sans-serif" font-size="100" font-style="italic" fill="#424242">R</text>
<text transform="matrix(0.93134 0 0 0.96932 1260.94 1642.92)" font-family="'Liberation Sans', Arial, sans-serif" font-size="100" font-style="italic" fill="#d10808">T</text>
<text transform="matrix(0.60987 0 0 0.65493 1313.48 1670.95)" font-family="'Liberation Sans', Arial, sans-serif" font-size="100" font-style="normal" fill="#d10808">C</text>
<text transform="matrix(0.92538 0 0 0.94225 1382.87 1642.66)" font-family="'Liberation Sans', Arial, sans-serif" font-size="100" font-style="normal" fill="#d10808">= 269 K</text>
<text transform="matrix(0.91191 0 0 1.09931 1100.58 1825.61)" font-family="IPAGothic, 'DejaVu Serif', serif" font-size="100" font-style="normal" fill="#000000">χ</text>
<text transform="matrix(0.92051 0 0 1.19667 1174.37 1821.94)" font-family="'Liberation Sans', Arial, sans-serif" font-size="100" font-style="normal" fill="#000000">'</text>
<text transform="matrix(0.93654 0 0 0.96788 1254.19 1828.03)" font-family="'Liberation Sans', Arial, sans-serif" font-size="100" font-style="italic" fill="#0a69b1">T</text>
<text transform="matrix(0.60669 0 0 0.62958 1308.00 1856.17)" font-family="'Liberation Sans', Arial, sans-serif" font-size="100" font-style="normal" fill="#0a69b1">C</text>
<text transform="matrix(0.92536 0 0 0.94085 1376.27 1827.96)" font-family="'Liberation Sans', Arial, sans-serif" font-size="100" font-style="normal" fill="#0a69b1">= 269.5 K</text>
<defs><clipPath id="c1_1" clipPathUnits="userSpaceOnUse"><path clip-rule="evenodd" d="M-500 -300H3000V300H-500ZM39.12 -9.67H58.44V3.00H39.12ZM67.28 -9.67H85.53V3.00H67.28Z"/></clipPath><clipPath id="c1_11" clipPathUnits="userSpaceOnUse"><path clip-rule="evenodd" d="M-500 -300H3000V300H-500ZM64.21 -9.67H83.54V3.00H64.21ZM92.38 -9.67H110.62V3.00H92.38Z"/></clipPath><clipPath id="c1_12" clipPathUnits="userSpaceOnUse"><path clip-rule="evenodd" d="M-500 -300H3000V300H-500ZM245.86 -9.67H265.18V3.00H245.86ZM274.02 -9.67H292.26V3.00H274.02Z"/></clipPath><clipPath id="c1_13" clipPathUnits="userSpaceOnUse"><path clip-rule="evenodd" d="M-500 -300H3000V300H-500ZM245.86 -9.67H265.18V3.00H245.86ZM274.02 -9.67H292.26V3.00H274.02Z"/></clipPath></defs>
</svg></body></html>
